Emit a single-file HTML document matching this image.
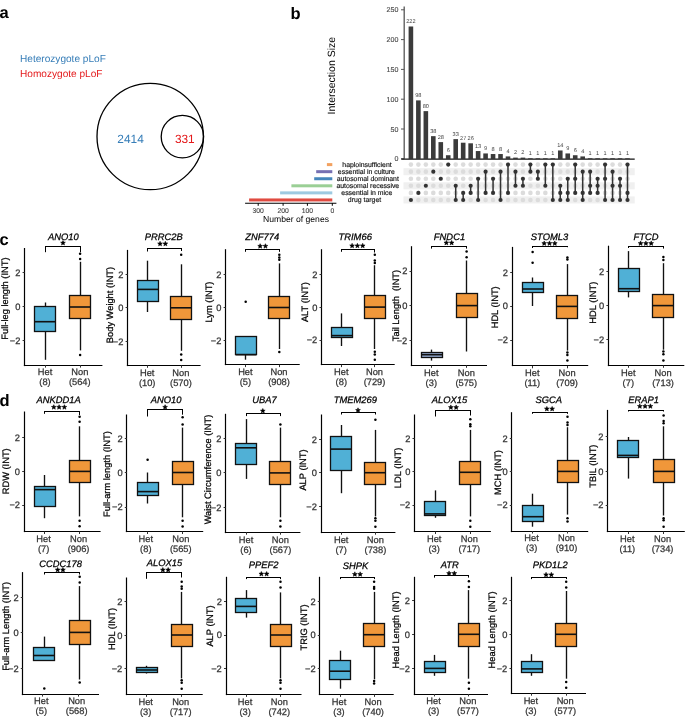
<!DOCTYPE html>
<html><head><meta charset="utf-8"><title>Figure</title>
<style>
html,body{margin:0;padding:0;background:#fff;}
body{width:685px;height:717px;overflow:hidden;}
svg{display:block;font-family:"Liberation Sans", sans-serif;will-change:transform;text-rendering:geometricPrecision;}
</style></head><body>
<svg width="685" height="717" viewBox="0 0 685 717">
<rect width="685" height="717" fill="#fff"/>
<text x="-0.5" y="18.3" font-size="16.5" fill="#000" text-anchor="start" font-weight="bold">a</text>
<text x="290.6" y="18.6" font-size="16.5" fill="#000" text-anchor="start" font-weight="bold">b</text>
<text x="-0.6" y="244.6" font-size="16.5" fill="#000" text-anchor="start" font-weight="bold">c</text>
<text x="-0.6" y="405.7" font-size="16.5" fill="#000" text-anchor="start" font-weight="bold">d</text>
<text x="20" y="62.3" font-size="10.1" fill="#377eb8" text-anchor="start">Heterozygote pLoF</text>
<text x="20" y="77.2" font-size="10.1" fill="#e41a1c" text-anchor="start">Homozygote pLoF</text>
<circle cx="150.2" cy="136.5" r="53.2" fill="none" stroke="#000" stroke-width="1.3"/>
<circle cx="182.4" cy="136.6" r="21.2" fill="none" stroke="#000" stroke-width="1.3"/>
<text x="130.6" y="143" font-size="11.9" fill="#377eb8" text-anchor="middle">2414</text>
<text x="184.8" y="143" font-size="11.9" fill="#e41a1c" text-anchor="middle">331</text>
<line x1="404.2" y1="6.5" x2="404.2" y2="158.8" stroke="#555" stroke-width="1.3"/>
<line x1="401" y1="158.8" x2="404.2" y2="158.8" stroke="#555" stroke-width="1"/>
<text x="398.4" y="161.3" font-size="7.1" fill="#484848" text-anchor="end" stroke="#484848" stroke-width="0.12">0</text>
<line x1="401" y1="129" x2="404.2" y2="129" stroke="#555" stroke-width="1"/>
<text x="398.4" y="131.5" font-size="7.1" fill="#484848" text-anchor="end" stroke="#484848" stroke-width="0.12">50</text>
<line x1="401" y1="99.2" x2="404.2" y2="99.2" stroke="#555" stroke-width="1"/>
<text x="398.4" y="101.7" font-size="7.1" fill="#484848" text-anchor="end" stroke="#484848" stroke-width="0.12">100</text>
<line x1="401" y1="69.4" x2="404.2" y2="69.4" stroke="#555" stroke-width="1"/>
<text x="398.4" y="71.9" font-size="7.1" fill="#484848" text-anchor="end" stroke="#484848" stroke-width="0.12">150</text>
<line x1="401" y1="39.6" x2="404.2" y2="39.6" stroke="#555" stroke-width="1"/>
<text x="398.4" y="42.1" font-size="7.1" fill="#484848" text-anchor="end" stroke="#484848" stroke-width="0.12">200</text>
<line x1="401" y1="9.8" x2="404.2" y2="9.8" stroke="#555" stroke-width="1"/>
<text x="398.4" y="12.3" font-size="7.1" fill="#484848" text-anchor="end" stroke="#484848" stroke-width="0.12">250</text>
<text x="334.8" y="75.7" font-size="10.5" fill="#000" text-anchor="middle" transform="rotate(-90 334.8 75.7)">Intersection Size</text>
<rect x="408.6" y="26.49" width="4.6" height="132.31" fill="#3b3b3b"/>
<text x="410.9" y="23.29" font-size="5.6" fill="#444" text-anchor="middle">222</text>
<rect x="416.07" y="100.39" width="4.6" height="58.41" fill="#3b3b3b"/>
<text x="418.37" y="97.19" font-size="5.6" fill="#444" text-anchor="middle">98</text>
<rect x="423.54" y="111.12" width="4.6" height="47.68" fill="#3b3b3b"/>
<text x="425.84" y="107.92" font-size="5.6" fill="#444" text-anchor="middle">80</text>
<rect x="431.01" y="136.15" width="4.6" height="22.65" fill="#3b3b3b"/>
<text x="433.31" y="132.95" font-size="5.6" fill="#444" text-anchor="middle">38</text>
<rect x="438.48" y="142.11" width="4.6" height="16.69" fill="#3b3b3b"/>
<text x="440.78" y="138.91" font-size="5.6" fill="#444" text-anchor="middle">28</text>
<rect x="445.94" y="155.22" width="4.6" height="3.58" fill="#3b3b3b"/>
<text x="448.24" y="152.02" font-size="5.6" fill="#444" text-anchor="middle">6</text>
<rect x="453.41" y="139.13" width="4.6" height="19.67" fill="#3b3b3b"/>
<text x="455.71" y="135.93" font-size="5.6" fill="#444" text-anchor="middle">33</text>
<rect x="460.88" y="142.71" width="4.6" height="16.09" fill="#3b3b3b"/>
<text x="463.18" y="139.51" font-size="5.6" fill="#444" text-anchor="middle">27</text>
<rect x="468.35" y="143.3" width="4.6" height="15.5" fill="#3b3b3b"/>
<text x="470.65" y="140.1" font-size="5.6" fill="#444" text-anchor="middle">26</text>
<rect x="475.82" y="151.05" width="4.6" height="7.75" fill="#3b3b3b"/>
<text x="478.12" y="147.85" font-size="5.6" fill="#444" text-anchor="middle">13</text>
<rect x="483.29" y="153.44" width="4.6" height="5.36" fill="#3b3b3b"/>
<text x="485.59" y="150.24" font-size="5.6" fill="#444" text-anchor="middle">9</text>
<rect x="490.76" y="154.03" width="4.6" height="4.77" fill="#3b3b3b"/>
<text x="493.06" y="150.83" font-size="5.6" fill="#444" text-anchor="middle">8</text>
<rect x="498.23" y="154.03" width="4.6" height="4.77" fill="#3b3b3b"/>
<text x="500.53" y="150.83" font-size="5.6" fill="#444" text-anchor="middle">8</text>
<rect x="505.7" y="156.42" width="4.6" height="2.38" fill="#3b3b3b"/>
<text x="508" y="153.22" font-size="5.6" fill="#444" text-anchor="middle">4</text>
<rect x="513.17" y="157.61" width="4.6" height="1.19" fill="#3b3b3b"/>
<text x="515.47" y="154.41" font-size="5.6" fill="#444" text-anchor="middle">2</text>
<rect x="520.63" y="157.61" width="4.6" height="1.19" fill="#3b3b3b"/>
<text x="522.93" y="154.41" font-size="5.6" fill="#444" text-anchor="middle">2</text>
<rect x="528.1" y="158.2" width="4.6" height="0.6" fill="#3b3b3b"/>
<text x="530.4" y="155" font-size="5.6" fill="#444" text-anchor="middle">1</text>
<rect x="535.57" y="158.2" width="4.6" height="0.6" fill="#3b3b3b"/>
<text x="537.87" y="155" font-size="5.6" fill="#444" text-anchor="middle">1</text>
<rect x="543.04" y="158.2" width="4.6" height="0.6" fill="#3b3b3b"/>
<text x="545.34" y="155" font-size="5.6" fill="#444" text-anchor="middle">1</text>
<rect x="550.51" y="158.2" width="4.6" height="0.6" fill="#3b3b3b"/>
<text x="552.81" y="155" font-size="5.6" fill="#444" text-anchor="middle">1</text>
<rect x="557.98" y="150.46" width="4.6" height="8.34" fill="#3b3b3b"/>
<text x="560.28" y="147.26" font-size="5.6" fill="#444" text-anchor="middle">14</text>
<rect x="565.45" y="153.44" width="4.6" height="5.36" fill="#3b3b3b"/>
<text x="567.75" y="150.24" font-size="5.6" fill="#444" text-anchor="middle">9</text>
<rect x="572.92" y="155.22" width="4.6" height="3.58" fill="#3b3b3b"/>
<text x="575.22" y="152.02" font-size="5.6" fill="#444" text-anchor="middle">6</text>
<rect x="580.39" y="156.42" width="4.6" height="2.38" fill="#3b3b3b"/>
<text x="582.69" y="153.22" font-size="5.6" fill="#444" text-anchor="middle">4</text>
<rect x="587.86" y="158.2" width="4.6" height="0.6" fill="#3b3b3b"/>
<text x="590.16" y="155" font-size="5.6" fill="#444" text-anchor="middle">1</text>
<rect x="595.32" y="158.2" width="4.6" height="0.6" fill="#3b3b3b"/>
<text x="597.62" y="155" font-size="5.6" fill="#444" text-anchor="middle">1</text>
<rect x="602.79" y="158.2" width="4.6" height="0.6" fill="#3b3b3b"/>
<text x="605.09" y="155" font-size="5.6" fill="#444" text-anchor="middle">1</text>
<rect x="610.26" y="158.2" width="4.6" height="0.6" fill="#3b3b3b"/>
<text x="612.56" y="155" font-size="5.6" fill="#444" text-anchor="middle">1</text>
<rect x="617.73" y="158.2" width="4.6" height="0.6" fill="#3b3b3b"/>
<text x="620.03" y="155" font-size="5.6" fill="#444" text-anchor="middle">1</text>
<rect x="625.2" y="158.2" width="4.6" height="0.6" fill="#3b3b3b"/>
<text x="627.5" y="155" font-size="5.6" fill="#444" text-anchor="middle">1</text>
<rect x="403.5" y="168.13" width="231.2" height="7.07" fill="#f0f0f0"/>
<rect x="403.5" y="182.28" width="231.2" height="7.07" fill="#f0f0f0"/>
<rect x="403.5" y="196.41" width="231.2" height="7.07" fill="#f0f0f0"/>
<line x1="401.3" y1="159.1" x2="634.7" y2="159.1" stroke="#111" stroke-width="1.4"/>
<circle cx="410.9" cy="164.6" r="2.3" fill="#dcdcdc"/>
<circle cx="410.9" cy="171.67" r="2.3" fill="#dcdcdc"/>
<circle cx="410.9" cy="178.74" r="2.3" fill="#dcdcdc"/>
<circle cx="410.9" cy="185.81" r="2.3" fill="#dcdcdc"/>
<circle cx="410.9" cy="192.88" r="2.3" fill="#dcdcdc"/>
<circle cx="410.9" cy="199.95" r="2.3" fill="#dcdcdc"/>
<circle cx="418.37" cy="164.6" r="2.3" fill="#dcdcdc"/>
<circle cx="418.37" cy="171.67" r="2.3" fill="#dcdcdc"/>
<circle cx="418.37" cy="178.74" r="2.3" fill="#dcdcdc"/>
<circle cx="418.37" cy="185.81" r="2.3" fill="#dcdcdc"/>
<circle cx="418.37" cy="192.88" r="2.3" fill="#dcdcdc"/>
<circle cx="418.37" cy="199.95" r="2.3" fill="#dcdcdc"/>
<circle cx="425.84" cy="164.6" r="2.3" fill="#dcdcdc"/>
<circle cx="425.84" cy="171.67" r="2.3" fill="#dcdcdc"/>
<circle cx="425.84" cy="178.74" r="2.3" fill="#dcdcdc"/>
<circle cx="425.84" cy="185.81" r="2.3" fill="#dcdcdc"/>
<circle cx="425.84" cy="192.88" r="2.3" fill="#dcdcdc"/>
<circle cx="425.84" cy="199.95" r="2.3" fill="#dcdcdc"/>
<circle cx="433.31" cy="164.6" r="2.3" fill="#dcdcdc"/>
<circle cx="433.31" cy="171.67" r="2.3" fill="#dcdcdc"/>
<circle cx="433.31" cy="178.74" r="2.3" fill="#dcdcdc"/>
<circle cx="433.31" cy="185.81" r="2.3" fill="#dcdcdc"/>
<circle cx="433.31" cy="192.88" r="2.3" fill="#dcdcdc"/>
<circle cx="433.31" cy="199.95" r="2.3" fill="#dcdcdc"/>
<circle cx="440.78" cy="164.6" r="2.3" fill="#dcdcdc"/>
<circle cx="440.78" cy="171.67" r="2.3" fill="#dcdcdc"/>
<circle cx="440.78" cy="178.74" r="2.3" fill="#dcdcdc"/>
<circle cx="440.78" cy="185.81" r="2.3" fill="#dcdcdc"/>
<circle cx="440.78" cy="192.88" r="2.3" fill="#dcdcdc"/>
<circle cx="440.78" cy="199.95" r="2.3" fill="#dcdcdc"/>
<circle cx="448.24" cy="164.6" r="2.3" fill="#dcdcdc"/>
<circle cx="448.24" cy="171.67" r="2.3" fill="#dcdcdc"/>
<circle cx="448.24" cy="178.74" r="2.3" fill="#dcdcdc"/>
<circle cx="448.24" cy="185.81" r="2.3" fill="#dcdcdc"/>
<circle cx="448.24" cy="192.88" r="2.3" fill="#dcdcdc"/>
<circle cx="448.24" cy="199.95" r="2.3" fill="#dcdcdc"/>
<circle cx="455.71" cy="164.6" r="2.3" fill="#dcdcdc"/>
<circle cx="455.71" cy="171.67" r="2.3" fill="#dcdcdc"/>
<circle cx="455.71" cy="178.74" r="2.3" fill="#dcdcdc"/>
<circle cx="455.71" cy="185.81" r="2.3" fill="#dcdcdc"/>
<circle cx="455.71" cy="192.88" r="2.3" fill="#dcdcdc"/>
<circle cx="455.71" cy="199.95" r="2.3" fill="#dcdcdc"/>
<circle cx="463.18" cy="164.6" r="2.3" fill="#dcdcdc"/>
<circle cx="463.18" cy="171.67" r="2.3" fill="#dcdcdc"/>
<circle cx="463.18" cy="178.74" r="2.3" fill="#dcdcdc"/>
<circle cx="463.18" cy="185.81" r="2.3" fill="#dcdcdc"/>
<circle cx="463.18" cy="192.88" r="2.3" fill="#dcdcdc"/>
<circle cx="463.18" cy="199.95" r="2.3" fill="#dcdcdc"/>
<circle cx="470.65" cy="164.6" r="2.3" fill="#dcdcdc"/>
<circle cx="470.65" cy="171.67" r="2.3" fill="#dcdcdc"/>
<circle cx="470.65" cy="178.74" r="2.3" fill="#dcdcdc"/>
<circle cx="470.65" cy="185.81" r="2.3" fill="#dcdcdc"/>
<circle cx="470.65" cy="192.88" r="2.3" fill="#dcdcdc"/>
<circle cx="470.65" cy="199.95" r="2.3" fill="#dcdcdc"/>
<circle cx="478.12" cy="164.6" r="2.3" fill="#dcdcdc"/>
<circle cx="478.12" cy="171.67" r="2.3" fill="#dcdcdc"/>
<circle cx="478.12" cy="178.74" r="2.3" fill="#dcdcdc"/>
<circle cx="478.12" cy="185.81" r="2.3" fill="#dcdcdc"/>
<circle cx="478.12" cy="192.88" r="2.3" fill="#dcdcdc"/>
<circle cx="478.12" cy="199.95" r="2.3" fill="#dcdcdc"/>
<circle cx="485.59" cy="164.6" r="2.3" fill="#dcdcdc"/>
<circle cx="485.59" cy="171.67" r="2.3" fill="#dcdcdc"/>
<circle cx="485.59" cy="178.74" r="2.3" fill="#dcdcdc"/>
<circle cx="485.59" cy="185.81" r="2.3" fill="#dcdcdc"/>
<circle cx="485.59" cy="192.88" r="2.3" fill="#dcdcdc"/>
<circle cx="485.59" cy="199.95" r="2.3" fill="#dcdcdc"/>
<circle cx="493.06" cy="164.6" r="2.3" fill="#dcdcdc"/>
<circle cx="493.06" cy="171.67" r="2.3" fill="#dcdcdc"/>
<circle cx="493.06" cy="178.74" r="2.3" fill="#dcdcdc"/>
<circle cx="493.06" cy="185.81" r="2.3" fill="#dcdcdc"/>
<circle cx="493.06" cy="192.88" r="2.3" fill="#dcdcdc"/>
<circle cx="493.06" cy="199.95" r="2.3" fill="#dcdcdc"/>
<circle cx="500.53" cy="164.6" r="2.3" fill="#dcdcdc"/>
<circle cx="500.53" cy="171.67" r="2.3" fill="#dcdcdc"/>
<circle cx="500.53" cy="178.74" r="2.3" fill="#dcdcdc"/>
<circle cx="500.53" cy="185.81" r="2.3" fill="#dcdcdc"/>
<circle cx="500.53" cy="192.88" r="2.3" fill="#dcdcdc"/>
<circle cx="500.53" cy="199.95" r="2.3" fill="#dcdcdc"/>
<circle cx="508" cy="164.6" r="2.3" fill="#dcdcdc"/>
<circle cx="508" cy="171.67" r="2.3" fill="#dcdcdc"/>
<circle cx="508" cy="178.74" r="2.3" fill="#dcdcdc"/>
<circle cx="508" cy="185.81" r="2.3" fill="#dcdcdc"/>
<circle cx="508" cy="192.88" r="2.3" fill="#dcdcdc"/>
<circle cx="508" cy="199.95" r="2.3" fill="#dcdcdc"/>
<circle cx="515.47" cy="164.6" r="2.3" fill="#dcdcdc"/>
<circle cx="515.47" cy="171.67" r="2.3" fill="#dcdcdc"/>
<circle cx="515.47" cy="178.74" r="2.3" fill="#dcdcdc"/>
<circle cx="515.47" cy="185.81" r="2.3" fill="#dcdcdc"/>
<circle cx="515.47" cy="192.88" r="2.3" fill="#dcdcdc"/>
<circle cx="515.47" cy="199.95" r="2.3" fill="#dcdcdc"/>
<circle cx="522.93" cy="164.6" r="2.3" fill="#dcdcdc"/>
<circle cx="522.93" cy="171.67" r="2.3" fill="#dcdcdc"/>
<circle cx="522.93" cy="178.74" r="2.3" fill="#dcdcdc"/>
<circle cx="522.93" cy="185.81" r="2.3" fill="#dcdcdc"/>
<circle cx="522.93" cy="192.88" r="2.3" fill="#dcdcdc"/>
<circle cx="522.93" cy="199.95" r="2.3" fill="#dcdcdc"/>
<circle cx="530.4" cy="164.6" r="2.3" fill="#dcdcdc"/>
<circle cx="530.4" cy="171.67" r="2.3" fill="#dcdcdc"/>
<circle cx="530.4" cy="178.74" r="2.3" fill="#dcdcdc"/>
<circle cx="530.4" cy="185.81" r="2.3" fill="#dcdcdc"/>
<circle cx="530.4" cy="192.88" r="2.3" fill="#dcdcdc"/>
<circle cx="530.4" cy="199.95" r="2.3" fill="#dcdcdc"/>
<circle cx="537.87" cy="164.6" r="2.3" fill="#dcdcdc"/>
<circle cx="537.87" cy="171.67" r="2.3" fill="#dcdcdc"/>
<circle cx="537.87" cy="178.74" r="2.3" fill="#dcdcdc"/>
<circle cx="537.87" cy="185.81" r="2.3" fill="#dcdcdc"/>
<circle cx="537.87" cy="192.88" r="2.3" fill="#dcdcdc"/>
<circle cx="537.87" cy="199.95" r="2.3" fill="#dcdcdc"/>
<circle cx="545.34" cy="164.6" r="2.3" fill="#dcdcdc"/>
<circle cx="545.34" cy="171.67" r="2.3" fill="#dcdcdc"/>
<circle cx="545.34" cy="178.74" r="2.3" fill="#dcdcdc"/>
<circle cx="545.34" cy="185.81" r="2.3" fill="#dcdcdc"/>
<circle cx="545.34" cy="192.88" r="2.3" fill="#dcdcdc"/>
<circle cx="545.34" cy="199.95" r="2.3" fill="#dcdcdc"/>
<circle cx="552.81" cy="164.6" r="2.3" fill="#dcdcdc"/>
<circle cx="552.81" cy="171.67" r="2.3" fill="#dcdcdc"/>
<circle cx="552.81" cy="178.74" r="2.3" fill="#dcdcdc"/>
<circle cx="552.81" cy="185.81" r="2.3" fill="#dcdcdc"/>
<circle cx="552.81" cy="192.88" r="2.3" fill="#dcdcdc"/>
<circle cx="552.81" cy="199.95" r="2.3" fill="#dcdcdc"/>
<circle cx="560.28" cy="164.6" r="2.3" fill="#dcdcdc"/>
<circle cx="560.28" cy="171.67" r="2.3" fill="#dcdcdc"/>
<circle cx="560.28" cy="178.74" r="2.3" fill="#dcdcdc"/>
<circle cx="560.28" cy="185.81" r="2.3" fill="#dcdcdc"/>
<circle cx="560.28" cy="192.88" r="2.3" fill="#dcdcdc"/>
<circle cx="560.28" cy="199.95" r="2.3" fill="#dcdcdc"/>
<circle cx="567.75" cy="164.6" r="2.3" fill="#dcdcdc"/>
<circle cx="567.75" cy="171.67" r="2.3" fill="#dcdcdc"/>
<circle cx="567.75" cy="178.74" r="2.3" fill="#dcdcdc"/>
<circle cx="567.75" cy="185.81" r="2.3" fill="#dcdcdc"/>
<circle cx="567.75" cy="192.88" r="2.3" fill="#dcdcdc"/>
<circle cx="567.75" cy="199.95" r="2.3" fill="#dcdcdc"/>
<circle cx="575.22" cy="164.6" r="2.3" fill="#dcdcdc"/>
<circle cx="575.22" cy="171.67" r="2.3" fill="#dcdcdc"/>
<circle cx="575.22" cy="178.74" r="2.3" fill="#dcdcdc"/>
<circle cx="575.22" cy="185.81" r="2.3" fill="#dcdcdc"/>
<circle cx="575.22" cy="192.88" r="2.3" fill="#dcdcdc"/>
<circle cx="575.22" cy="199.95" r="2.3" fill="#dcdcdc"/>
<circle cx="582.69" cy="164.6" r="2.3" fill="#dcdcdc"/>
<circle cx="582.69" cy="171.67" r="2.3" fill="#dcdcdc"/>
<circle cx="582.69" cy="178.74" r="2.3" fill="#dcdcdc"/>
<circle cx="582.69" cy="185.81" r="2.3" fill="#dcdcdc"/>
<circle cx="582.69" cy="192.88" r="2.3" fill="#dcdcdc"/>
<circle cx="582.69" cy="199.95" r="2.3" fill="#dcdcdc"/>
<circle cx="590.16" cy="164.6" r="2.3" fill="#dcdcdc"/>
<circle cx="590.16" cy="171.67" r="2.3" fill="#dcdcdc"/>
<circle cx="590.16" cy="178.74" r="2.3" fill="#dcdcdc"/>
<circle cx="590.16" cy="185.81" r="2.3" fill="#dcdcdc"/>
<circle cx="590.16" cy="192.88" r="2.3" fill="#dcdcdc"/>
<circle cx="590.16" cy="199.95" r="2.3" fill="#dcdcdc"/>
<circle cx="597.62" cy="164.6" r="2.3" fill="#dcdcdc"/>
<circle cx="597.62" cy="171.67" r="2.3" fill="#dcdcdc"/>
<circle cx="597.62" cy="178.74" r="2.3" fill="#dcdcdc"/>
<circle cx="597.62" cy="185.81" r="2.3" fill="#dcdcdc"/>
<circle cx="597.62" cy="192.88" r="2.3" fill="#dcdcdc"/>
<circle cx="597.62" cy="199.95" r="2.3" fill="#dcdcdc"/>
<circle cx="605.09" cy="164.6" r="2.3" fill="#dcdcdc"/>
<circle cx="605.09" cy="171.67" r="2.3" fill="#dcdcdc"/>
<circle cx="605.09" cy="178.74" r="2.3" fill="#dcdcdc"/>
<circle cx="605.09" cy="185.81" r="2.3" fill="#dcdcdc"/>
<circle cx="605.09" cy="192.88" r="2.3" fill="#dcdcdc"/>
<circle cx="605.09" cy="199.95" r="2.3" fill="#dcdcdc"/>
<circle cx="612.56" cy="164.6" r="2.3" fill="#dcdcdc"/>
<circle cx="612.56" cy="171.67" r="2.3" fill="#dcdcdc"/>
<circle cx="612.56" cy="178.74" r="2.3" fill="#dcdcdc"/>
<circle cx="612.56" cy="185.81" r="2.3" fill="#dcdcdc"/>
<circle cx="612.56" cy="192.88" r="2.3" fill="#dcdcdc"/>
<circle cx="612.56" cy="199.95" r="2.3" fill="#dcdcdc"/>
<circle cx="620.03" cy="164.6" r="2.3" fill="#dcdcdc"/>
<circle cx="620.03" cy="171.67" r="2.3" fill="#dcdcdc"/>
<circle cx="620.03" cy="178.74" r="2.3" fill="#dcdcdc"/>
<circle cx="620.03" cy="185.81" r="2.3" fill="#dcdcdc"/>
<circle cx="620.03" cy="192.88" r="2.3" fill="#dcdcdc"/>
<circle cx="620.03" cy="199.95" r="2.3" fill="#dcdcdc"/>
<circle cx="627.5" cy="164.6" r="2.3" fill="#dcdcdc"/>
<circle cx="627.5" cy="171.67" r="2.3" fill="#dcdcdc"/>
<circle cx="627.5" cy="178.74" r="2.3" fill="#dcdcdc"/>
<circle cx="627.5" cy="185.81" r="2.3" fill="#dcdcdc"/>
<circle cx="627.5" cy="192.88" r="2.3" fill="#dcdcdc"/>
<circle cx="627.5" cy="199.95" r="2.3" fill="#dcdcdc"/>
<circle cx="410.9" cy="199.95" r="2.05" fill="#333"/>
<circle cx="418.37" cy="192.88" r="2.05" fill="#333"/>
<circle cx="425.84" cy="185.81" r="2.05" fill="#333"/>
<circle cx="433.31" cy="171.67" r="2.05" fill="#333"/>
<circle cx="440.78" cy="178.74" r="2.05" fill="#333"/>
<circle cx="448.24" cy="164.6" r="2.05" fill="#333"/>
<line x1="455.71" y1="185.81" x2="455.71" y2="199.95" stroke="#333" stroke-width="1.5"/>
<circle cx="455.71" cy="185.81" r="2.05" fill="#333"/>
<circle cx="455.71" cy="199.95" r="2.05" fill="#333"/>
<line x1="463.18" y1="192.88" x2="463.18" y2="199.95" stroke="#333" stroke-width="1.5"/>
<circle cx="463.18" cy="192.88" r="2.05" fill="#333"/>
<circle cx="463.18" cy="199.95" r="2.05" fill="#333"/>
<line x1="470.65" y1="185.81" x2="470.65" y2="192.88" stroke="#333" stroke-width="1.5"/>
<circle cx="470.65" cy="185.81" r="2.05" fill="#333"/>
<circle cx="470.65" cy="192.88" r="2.05" fill="#333"/>
<line x1="478.12" y1="178.74" x2="478.12" y2="199.95" stroke="#333" stroke-width="1.5"/>
<circle cx="478.12" cy="178.74" r="2.05" fill="#333"/>
<circle cx="478.12" cy="199.95" r="2.05" fill="#333"/>
<line x1="485.59" y1="171.67" x2="485.59" y2="192.88" stroke="#333" stroke-width="1.5"/>
<circle cx="485.59" cy="171.67" r="2.05" fill="#333"/>
<circle cx="485.59" cy="192.88" r="2.05" fill="#333"/>
<line x1="493.06" y1="178.74" x2="493.06" y2="192.88" stroke="#333" stroke-width="1.5"/>
<circle cx="493.06" cy="178.74" r="2.05" fill="#333"/>
<circle cx="493.06" cy="192.88" r="2.05" fill="#333"/>
<line x1="500.53" y1="171.67" x2="500.53" y2="199.95" stroke="#333" stroke-width="1.5"/>
<circle cx="500.53" cy="171.67" r="2.05" fill="#333"/>
<circle cx="500.53" cy="199.95" r="2.05" fill="#333"/>
<line x1="508" y1="164.6" x2="508" y2="192.88" stroke="#333" stroke-width="1.5"/>
<circle cx="508" cy="164.6" r="2.05" fill="#333"/>
<circle cx="508" cy="192.88" r="2.05" fill="#333"/>
<line x1="515.47" y1="171.67" x2="515.47" y2="185.81" stroke="#333" stroke-width="1.5"/>
<circle cx="515.47" cy="171.67" r="2.05" fill="#333"/>
<circle cx="515.47" cy="185.81" r="2.05" fill="#333"/>
<line x1="522.93" y1="178.74" x2="522.93" y2="185.81" stroke="#333" stroke-width="1.5"/>
<circle cx="522.93" cy="178.74" r="2.05" fill="#333"/>
<circle cx="522.93" cy="185.81" r="2.05" fill="#333"/>
<line x1="530.4" y1="164.6" x2="530.4" y2="171.67" stroke="#333" stroke-width="1.5"/>
<circle cx="530.4" cy="164.6" r="2.05" fill="#333"/>
<circle cx="530.4" cy="171.67" r="2.05" fill="#333"/>
<line x1="537.87" y1="171.67" x2="537.87" y2="178.74" stroke="#333" stroke-width="1.5"/>
<circle cx="537.87" cy="171.67" r="2.05" fill="#333"/>
<circle cx="537.87" cy="178.74" r="2.05" fill="#333"/>
<line x1="545.34" y1="164.6" x2="545.34" y2="185.81" stroke="#333" stroke-width="1.5"/>
<circle cx="545.34" cy="164.6" r="2.05" fill="#333"/>
<circle cx="545.34" cy="185.81" r="2.05" fill="#333"/>
<line x1="552.81" y1="164.6" x2="552.81" y2="199.95" stroke="#333" stroke-width="1.5"/>
<circle cx="552.81" cy="164.6" r="2.05" fill="#333"/>
<circle cx="552.81" cy="199.95" r="2.05" fill="#333"/>
<line x1="560.28" y1="185.81" x2="560.28" y2="199.95" stroke="#333" stroke-width="1.5"/>
<circle cx="560.28" cy="185.81" r="2.05" fill="#333"/>
<circle cx="560.28" cy="192.88" r="2.05" fill="#333"/>
<circle cx="560.28" cy="199.95" r="2.05" fill="#333"/>
<line x1="567.75" y1="178.74" x2="567.75" y2="199.95" stroke="#333" stroke-width="1.5"/>
<circle cx="567.75" cy="178.74" r="2.05" fill="#333"/>
<circle cx="567.75" cy="192.88" r="2.05" fill="#333"/>
<circle cx="567.75" cy="199.95" r="2.05" fill="#333"/>
<line x1="575.22" y1="164.6" x2="575.22" y2="192.88" stroke="#333" stroke-width="1.5"/>
<circle cx="575.22" cy="164.6" r="2.05" fill="#333"/>
<circle cx="575.22" cy="178.74" r="2.05" fill="#333"/>
<circle cx="575.22" cy="192.88" r="2.05" fill="#333"/>
<line x1="582.69" y1="171.67" x2="582.69" y2="199.95" stroke="#333" stroke-width="1.5"/>
<circle cx="582.69" cy="171.67" r="2.05" fill="#333"/>
<circle cx="582.69" cy="192.88" r="2.05" fill="#333"/>
<circle cx="582.69" cy="199.95" r="2.05" fill="#333"/>
<line x1="590.16" y1="171.67" x2="590.16" y2="192.88" stroke="#333" stroke-width="1.5"/>
<circle cx="590.16" cy="171.67" r="2.05" fill="#333"/>
<circle cx="590.16" cy="185.81" r="2.05" fill="#333"/>
<circle cx="590.16" cy="192.88" r="2.05" fill="#333"/>
<line x1="597.62" y1="178.74" x2="597.62" y2="192.88" stroke="#333" stroke-width="1.5"/>
<circle cx="597.62" cy="178.74" r="2.05" fill="#333"/>
<circle cx="597.62" cy="185.81" r="2.05" fill="#333"/>
<circle cx="597.62" cy="192.88" r="2.05" fill="#333"/>
<line x1="605.09" y1="164.6" x2="605.09" y2="199.95" stroke="#333" stroke-width="1.5"/>
<circle cx="605.09" cy="164.6" r="2.05" fill="#333"/>
<circle cx="605.09" cy="178.74" r="2.05" fill="#333"/>
<circle cx="605.09" cy="199.95" r="2.05" fill="#333"/>
<line x1="612.56" y1="171.67" x2="612.56" y2="199.95" stroke="#333" stroke-width="1.5"/>
<circle cx="612.56" cy="171.67" r="2.05" fill="#333"/>
<circle cx="612.56" cy="185.81" r="2.05" fill="#333"/>
<circle cx="612.56" cy="199.95" r="2.05" fill="#333"/>
<line x1="620.03" y1="178.74" x2="620.03" y2="199.95" stroke="#333" stroke-width="1.5"/>
<circle cx="620.03" cy="178.74" r="2.05" fill="#333"/>
<circle cx="620.03" cy="185.81" r="2.05" fill="#333"/>
<circle cx="620.03" cy="199.95" r="2.05" fill="#333"/>
<line x1="627.5" y1="164.6" x2="627.5" y2="199.95" stroke="#333" stroke-width="1.5"/>
<circle cx="627.5" cy="164.6" r="2.05" fill="#333"/>
<circle cx="627.5" cy="192.88" r="2.05" fill="#333"/>
<circle cx="627.5" cy="199.95" r="2.05" fill="#333"/>
<rect x="326.9" y="163.1" width="5.4" height="3" fill="#f2a160"/>
<text x="367" y="167" font-size="6.9" fill="#111" text-anchor="middle" stroke="#111" stroke-width="0.15">haploinsufficient</text>
<rect x="316.2" y="170.17" width="16.1" height="3" fill="#7670b2"/>
<text x="366.4" y="174.07" font-size="6.9" fill="#111" text-anchor="middle" stroke="#111" stroke-width="0.15">essential in culture</text>
<rect x="314.2" y="177.24" width="18.1" height="3" fill="#4586bb"/>
<text x="367.8" y="181.14" font-size="6.9" fill="#111" text-anchor="middle" stroke="#111" stroke-width="0.15">autosomal dominant</text>
<rect x="291.4" y="184.31" width="40.9" height="3" fill="#9acf95"/>
<text x="367.8" y="188.21" font-size="6.9" fill="#111" text-anchor="middle" stroke="#111" stroke-width="0.15">autosomal recessive</text>
<rect x="280.1" y="191.38" width="52.2" height="3" fill="#9ecae1"/>
<text x="366.8" y="195.28" font-size="6.9" fill="#111" text-anchor="middle" stroke="#111" stroke-width="0.15">essential in mice</text>
<rect x="249.1" y="198.45" width="83.2" height="3" fill="#e04a40"/>
<text x="364.5" y="202.35" font-size="6.9" fill="#111" text-anchor="middle" stroke="#111" stroke-width="0.15">drug target</text>
<line x1="245.1" y1="203.2" x2="336.4" y2="203.2" stroke="#000" stroke-width="1.1"/>
<line x1="258.2" y1="203.2" x2="258.2" y2="205.8" stroke="#000" stroke-width="1"/>
<text x="258.2" y="212.8" font-size="6.8" fill="#484848" text-anchor="middle" stroke="#484848" stroke-width="0.12">300</text>
<line x1="283.1" y1="203.2" x2="283.1" y2="205.8" stroke="#000" stroke-width="1"/>
<text x="283.1" y="212.8" font-size="6.8" fill="#484848" text-anchor="middle" stroke="#484848" stroke-width="0.12">200</text>
<line x1="307.4" y1="203.2" x2="307.4" y2="205.8" stroke="#000" stroke-width="1"/>
<text x="307.4" y="212.8" font-size="6.8" fill="#484848" text-anchor="middle" stroke="#484848" stroke-width="0.12">100</text>
<line x1="332.3" y1="203.2" x2="332.3" y2="205.8" stroke="#000" stroke-width="1"/>
<text x="332.3" y="212.8" font-size="6.8" fill="#484848" text-anchor="middle" stroke="#484848" stroke-width="0.12">0</text>
<text x="296" y="222" font-size="8.6" fill="#000" text-anchor="middle">Number of genes</text>
<line x1="24.5" y1="248" x2="24.5" y2="366.1" stroke="#000" stroke-width="1.2"/>
<line x1="23.9" y1="365.5" x2="102.4" y2="365.5" stroke="#000" stroke-width="1.2"/>
<line x1="22.6" y1="272.5" x2="24.6" y2="272.5" stroke="#333" stroke-width="1"/>
<text x="20.4" y="276.2" font-size="9.3" fill="#333333" text-anchor="end" stroke="#333333" stroke-width="0.25">2</text>
<line x1="22.6" y1="306.5" x2="24.6" y2="306.5" stroke="#333" stroke-width="1"/>
<text x="20.4" y="310.2" font-size="9.3" fill="#333333" text-anchor="end" stroke="#333333" stroke-width="0.25">0</text>
<line x1="22.6" y1="340.5" x2="24.6" y2="340.5" stroke="#333" stroke-width="1"/>
<text x="20.4" y="344.1" font-size="9.3" fill="#333333" text-anchor="end" stroke="#333333" stroke-width="0.25">−2</text>
<line x1="45.5" y1="365.2" x2="45.5" y2="367.6" stroke="#333" stroke-width="1"/>
<line x1="80.5" y1="365.2" x2="80.5" y2="367.6" stroke="#333" stroke-width="1"/>
<text x="45" y="375.4" font-size="9.3" fill="#333333" text-anchor="middle" stroke="#333333" stroke-width="0.25">Het</text>
<text x="45" y="385.4" font-size="9.3" fill="#333333" text-anchor="middle" stroke="#333333" stroke-width="0.25">(8)</text>
<text x="79.8" y="375.4" font-size="9.3" fill="#333333" text-anchor="middle" stroke="#333333" stroke-width="0.25">Non</text>
<text x="79.8" y="385.4" font-size="9.3" fill="#333333" text-anchor="middle" stroke="#333333" stroke-width="0.25">(564)</text>
<text x="7.6" y="298.6" font-size="9.3" fill="#000" text-anchor="middle" stroke="#000" stroke-width="0.25" transform="rotate(-90 7.6 298.6)">Full-leg length (INT)</text>
<text x="63.3" y="240.2" font-size="9.4" fill="#000" text-anchor="middle" stroke="#000" stroke-width="0.25" font-style="italic">ANO10</text>
<line x1="45.5" y1="302.5" x2="45.5" y2="306.3" stroke="#111" stroke-width="1.35"/>
<line x1="45.5" y1="331.4" x2="45.5" y2="359.8" stroke="#111" stroke-width="1.35"/>
<rect x="34.5" y="306.5" width="21" height="25" fill="#50b0d6" stroke="#111" stroke-width="1.3"/>
<line x1="34.5" y1="321.7" x2="55.5" y2="321.7" stroke="#111" stroke-width="1.6"/>
<line x1="80.5" y1="261.8" x2="80.5" y2="295.3" stroke="#111" stroke-width="1.35"/>
<line x1="80.5" y1="318.2" x2="80.5" y2="350.4" stroke="#111" stroke-width="1.35"/>
<rect x="69.5" y="295.5" width="21" height="23" fill="#f0973a" stroke="#111" stroke-width="1.3"/>
<line x1="69.5" y1="307" x2="90.5" y2="307" stroke="#111" stroke-width="1.6"/>
<circle cx="80.1" cy="259" r="1.25" fill="#000"/>
<circle cx="80.1" cy="253.8" r="1.25" fill="#000"/>
<circle cx="80.1" cy="355" r="1.25" fill="#000"/>
<line x1="45.3" y1="246.5" x2="80.1" y2="246.5" stroke="#000" stroke-width="1"/>
<line x1="45.5" y1="246" x2="45.5" y2="252.2" stroke="#000" stroke-width="1"/>
<line x1="80.5" y1="246" x2="80.5" y2="252.2" stroke="#000" stroke-width="1"/>
<polygon points="63,240.5 63.65,242.11 65.38,242.23 64.05,243.34 64.47,245.02 63,244.1 61.53,245.02 61.95,243.34 60.62,242.23 62.35,242.11" fill="#000" stroke="#000" stroke-width="0.55" stroke-linejoin="round"/>
<line x1="127.5" y1="249.9" x2="127.5" y2="366.1" stroke="#000" stroke-width="1.2"/>
<line x1="126.9" y1="365.5" x2="200.6" y2="365.5" stroke="#000" stroke-width="1.2"/>
<line x1="125.6" y1="274.5" x2="127.6" y2="274.5" stroke="#333" stroke-width="1"/>
<text x="123.4" y="277.8" font-size="9.3" fill="#333333" text-anchor="end" stroke="#333333" stroke-width="0.25">2</text>
<line x1="125.6" y1="307.5" x2="127.6" y2="307.5" stroke="#333" stroke-width="1"/>
<text x="123.4" y="311.2" font-size="9.3" fill="#333333" text-anchor="end" stroke="#333333" stroke-width="0.25">0</text>
<line x1="125.6" y1="341.5" x2="127.6" y2="341.5" stroke="#333" stroke-width="1"/>
<text x="123.4" y="345" font-size="9.3" fill="#333333" text-anchor="end" stroke="#333333" stroke-width="0.25">−2</text>
<line x1="147.5" y1="365.4" x2="147.5" y2="367.8" stroke="#333" stroke-width="1"/>
<line x1="181.5" y1="365.4" x2="181.5" y2="367.8" stroke="#333" stroke-width="1"/>
<text x="147.2" y="375.6" font-size="9.3" fill="#333333" text-anchor="middle" stroke="#333333" stroke-width="0.25">Het</text>
<text x="147.2" y="385.6" font-size="9.3" fill="#333333" text-anchor="middle" stroke="#333333" stroke-width="0.25">(10)</text>
<text x="180.9" y="375.6" font-size="9.3" fill="#333333" text-anchor="middle" stroke="#333333" stroke-width="0.25">Non</text>
<text x="180.9" y="385.6" font-size="9.3" fill="#333333" text-anchor="middle" stroke="#333333" stroke-width="0.25">(570)</text>
<text x="112.6" y="305" font-size="9.3" fill="#000" text-anchor="middle" stroke="#000" stroke-width="0.25" transform="rotate(-90 112.6 305)">Body Weight (INT)</text>
<text x="163.8" y="240.2" font-size="9.4" fill="#000" text-anchor="middle" stroke="#000" stroke-width="0.25" font-style="italic">PRRC2B</text>
<line x1="147.5" y1="260.7" x2="147.5" y2="280.2" stroke="#111" stroke-width="1.35"/>
<line x1="147.5" y1="301.4" x2="147.5" y2="312" stroke="#111" stroke-width="1.35"/>
<rect x="137.5" y="280.5" width="21" height="21" fill="#50b0d6" stroke="#111" stroke-width="1.3"/>
<line x1="137.5" y1="289.4" x2="158.5" y2="289.4" stroke="#111" stroke-width="1.6"/>
<line x1="181.5" y1="264.3" x2="181.5" y2="296.6" stroke="#111" stroke-width="1.35"/>
<line x1="181.5" y1="319" x2="181.5" y2="350.8" stroke="#111" stroke-width="1.35"/>
<rect x="170.5" y="296.5" width="21" height="23" fill="#f0973a" stroke="#111" stroke-width="1.3"/>
<line x1="170.5" y1="307.8" x2="191.5" y2="307.8" stroke="#111" stroke-width="1.6"/>
<circle cx="181.2" cy="254.8" r="1.25" fill="#000"/>
<circle cx="181.2" cy="354.4" r="1.25" fill="#000"/>
<circle cx="181.2" cy="360.1" r="1.25" fill="#000"/>
<line x1="147.5" y1="248.5" x2="181.2" y2="248.5" stroke="#000" stroke-width="1"/>
<line x1="147.5" y1="248" x2="147.5" y2="251.5" stroke="#000" stroke-width="1"/>
<line x1="181.5" y1="248" x2="181.5" y2="251" stroke="#000" stroke-width="1"/>
<polygon points="160.05,241.3 160.7,242.91 162.43,243.03 161.1,244.14 161.52,245.82 160.05,244.9 158.58,245.82 159,244.14 157.67,243.03 159.4,242.91" fill="#000" stroke="#000" stroke-width="0.55" stroke-linejoin="round"/>
<polygon points="165.35,241.3 166,242.91 167.73,243.03 166.4,244.14 166.82,245.82 165.35,244.9 163.88,245.82 164.3,244.14 162.97,243.03 164.7,242.91" fill="#000" stroke="#000" stroke-width="0.55" stroke-linejoin="round"/>
<line x1="225.5" y1="249.2" x2="225.5" y2="365.1" stroke="#000" stroke-width="1.2"/>
<line x1="224.9" y1="364.5" x2="299.7" y2="364.5" stroke="#000" stroke-width="1.2"/>
<line x1="223.6" y1="274.5" x2="225.6" y2="274.5" stroke="#333" stroke-width="1"/>
<text x="221.4" y="277.8" font-size="9.3" fill="#333333" text-anchor="end" stroke="#333333" stroke-width="0.25">2</text>
<line x1="223.6" y1="307.5" x2="225.6" y2="307.5" stroke="#333" stroke-width="1"/>
<text x="221.4" y="310.5" font-size="9.3" fill="#333333" text-anchor="end" stroke="#333333" stroke-width="0.25">0</text>
<line x1="223.6" y1="340.5" x2="225.6" y2="340.5" stroke="#333" stroke-width="1"/>
<text x="221.4" y="344.1" font-size="9.3" fill="#333333" text-anchor="end" stroke="#333333" stroke-width="0.25">−2</text>
<line x1="245.5" y1="364.7" x2="245.5" y2="367.1" stroke="#333" stroke-width="1"/>
<line x1="279.5" y1="364.7" x2="279.5" y2="367.1" stroke="#333" stroke-width="1"/>
<text x="245.4" y="374.9" font-size="9.3" fill="#333333" text-anchor="middle" stroke="#333333" stroke-width="0.25">Het</text>
<text x="245.4" y="384.9" font-size="9.3" fill="#333333" text-anchor="middle" stroke="#333333" stroke-width="0.25">(5)</text>
<text x="279" y="374.9" font-size="9.3" fill="#333333" text-anchor="middle" stroke="#333333" stroke-width="0.25">Non</text>
<text x="279" y="384.9" font-size="9.3" fill="#333333" text-anchor="middle" stroke="#333333" stroke-width="0.25">(908)</text>
<text x="212" y="302" font-size="9.3" fill="#000" text-anchor="middle" stroke="#000" stroke-width="0.25" transform="rotate(-90 212 302)">Lym (INT)</text>
<text x="262.3" y="240.2" font-size="9.4" fill="#000" text-anchor="middle" stroke="#000" stroke-width="0.25" font-style="italic">ZNF774</text>
<line x1="245.5" y1="354.7" x2="245.5" y2="359.7" stroke="#111" stroke-width="1.35"/>
<rect x="235.5" y="336.5" width="21" height="18" fill="#50b0d6" stroke="#111" stroke-width="1.3"/>
<line x1="235.5" y1="354.7" x2="256.5" y2="354.7" stroke="#111" stroke-width="1.6"/>
<circle cx="245.7" cy="301.8" r="1.25" fill="#000"/>
<line x1="279.5" y1="263.4" x2="279.5" y2="296" stroke="#111" stroke-width="1.35"/>
<line x1="279.5" y1="318.3" x2="279.5" y2="349" stroke="#111" stroke-width="1.35"/>
<rect x="268.5" y="296.5" width="21" height="22" fill="#f0973a" stroke="#111" stroke-width="1.3"/>
<line x1="268.5" y1="307.5" x2="289.5" y2="307.5" stroke="#111" stroke-width="1.6"/>
<circle cx="279.3" cy="259.8" r="1.25" fill="#000"/>
<circle cx="279.3" cy="257.6" r="1.25" fill="#000"/>
<circle cx="279.3" cy="254.8" r="1.25" fill="#000"/>
<circle cx="279.3" cy="352.1" r="1.25" fill="#000"/>
<line x1="245.7" y1="249.5" x2="279.3" y2="249.5" stroke="#000" stroke-width="1"/>
<line x1="245.5" y1="249" x2="245.5" y2="251.8" stroke="#000" stroke-width="1"/>
<line x1="279.5" y1="249" x2="279.5" y2="251.8" stroke="#000" stroke-width="1"/>
<polygon points="260.15,243.7 260.8,245.31 262.53,245.43 261.2,246.54 261.62,248.22 260.15,247.3 258.68,248.22 259.1,246.54 257.77,245.43 259.5,245.31" fill="#000" stroke="#000" stroke-width="0.55" stroke-linejoin="round"/>
<polygon points="265.45,243.7 266.1,245.31 267.83,245.43 266.5,246.54 266.92,248.22 265.45,247.3 263.98,248.22 264.4,246.54 263.07,245.43 264.8,245.31" fill="#000" stroke="#000" stroke-width="0.55" stroke-linejoin="round"/>
<line x1="321.5" y1="249.2" x2="321.5" y2="365.1" stroke="#000" stroke-width="1.2"/>
<line x1="320.9" y1="364.5" x2="394.7" y2="364.5" stroke="#000" stroke-width="1.2"/>
<line x1="319.5" y1="274.5" x2="321.5" y2="274.5" stroke="#333" stroke-width="1"/>
<text x="317.3" y="277.8" font-size="9.3" fill="#333333" text-anchor="end" stroke="#333333" stroke-width="0.25">2</text>
<line x1="319.5" y1="307.5" x2="321.5" y2="307.5" stroke="#333" stroke-width="1"/>
<text x="317.3" y="310.5" font-size="9.3" fill="#333333" text-anchor="end" stroke="#333333" stroke-width="0.25">0</text>
<line x1="319.5" y1="340.5" x2="321.5" y2="340.5" stroke="#333" stroke-width="1"/>
<text x="317.3" y="343.4" font-size="9.3" fill="#333333" text-anchor="end" stroke="#333333" stroke-width="0.25">−2</text>
<line x1="341.5" y1="364.7" x2="341.5" y2="367.1" stroke="#333" stroke-width="1"/>
<line x1="374.5" y1="364.7" x2="374.5" y2="367.1" stroke="#333" stroke-width="1"/>
<text x="341.3" y="374.9" font-size="9.3" fill="#333333" text-anchor="middle" stroke="#333333" stroke-width="0.25">Het</text>
<text x="341.3" y="384.9" font-size="9.3" fill="#333333" text-anchor="middle" stroke="#333333" stroke-width="0.25">(8)</text>
<text x="374.5" y="374.9" font-size="9.3" fill="#333333" text-anchor="middle" stroke="#333333" stroke-width="0.25">Non</text>
<text x="374.5" y="384.9" font-size="9.3" fill="#333333" text-anchor="middle" stroke="#333333" stroke-width="0.25">(729)</text>
<text x="308" y="302.1" font-size="9.3" fill="#000" text-anchor="middle" stroke="#000" stroke-width="0.25" transform="rotate(-90 308 302.1)">ALT (INT)</text>
<text x="355.2" y="240.2" font-size="9.4" fill="#000" text-anchor="middle" stroke="#000" stroke-width="0.25" font-style="italic">TRIM66</text>
<line x1="341.5" y1="313.4" x2="341.5" y2="327.3" stroke="#111" stroke-width="1.35"/>
<line x1="341.5" y1="337.1" x2="341.5" y2="346" stroke="#111" stroke-width="1.35"/>
<rect x="331.5" y="327.5" width="21" height="10" fill="#50b0d6" stroke="#111" stroke-width="1.3"/>
<line x1="331.5" y1="335.6" x2="352.5" y2="335.6" stroke="#111" stroke-width="1.6"/>
<line x1="374.5" y1="265.2" x2="374.5" y2="295.5" stroke="#111" stroke-width="1.35"/>
<line x1="374.5" y1="318.3" x2="374.5" y2="349" stroke="#111" stroke-width="1.35"/>
<rect x="364.5" y="295.5" width="21" height="23" fill="#f0973a" stroke="#111" stroke-width="1.3"/>
<line x1="364.5" y1="307.1" x2="385.5" y2="307.1" stroke="#111" stroke-width="1.6"/>
<circle cx="374.8" cy="263" r="1.25" fill="#000"/>
<circle cx="374.8" cy="260.4" r="1.25" fill="#000"/>
<circle cx="374.8" cy="254.8" r="1.25" fill="#000"/>
<circle cx="374.8" cy="351.7" r="1.25" fill="#000"/>
<circle cx="374.8" cy="354.4" r="1.25" fill="#000"/>
<circle cx="374.8" cy="359.7" r="1.25" fill="#000"/>
<line x1="341.6" y1="249.5" x2="374.8" y2="249.5" stroke="#000" stroke-width="1"/>
<line x1="341.5" y1="249" x2="341.5" y2="251.8" stroke="#000" stroke-width="1"/>
<line x1="374.5" y1="249" x2="374.5" y2="252.5" stroke="#000" stroke-width="1"/>
<polygon points="352.1,243.3 352.75,244.91 354.48,245.03 353.15,246.14 353.57,247.82 352.1,246.9 350.63,247.82 351.05,246.14 349.72,245.03 351.45,244.91" fill="#000" stroke="#000" stroke-width="0.55" stroke-linejoin="round"/>
<polygon points="357.4,243.3 358.05,244.91 359.78,245.03 358.45,246.14 358.87,247.82 357.4,246.9 355.93,247.82 356.35,246.14 355.02,245.03 356.75,244.91" fill="#000" stroke="#000" stroke-width="0.55" stroke-linejoin="round"/>
<polygon points="362.7,243.3 363.35,244.91 365.08,245.03 363.75,246.14 364.17,247.82 362.7,246.9 361.23,247.82 361.65,246.14 360.32,245.03 362.05,244.91" fill="#000" stroke="#000" stroke-width="0.55" stroke-linejoin="round"/>
<line x1="411.5" y1="246.2" x2="411.5" y2="366.1" stroke="#000" stroke-width="1.2"/>
<line x1="410.9" y1="365.5" x2="487" y2="365.5" stroke="#000" stroke-width="1.2"/>
<line x1="409.5" y1="271.5" x2="411.5" y2="271.5" stroke="#333" stroke-width="1"/>
<text x="407.3" y="274.3" font-size="9.3" fill="#333333" text-anchor="end" stroke="#333333" stroke-width="0.25">2</text>
<line x1="409.5" y1="305.5" x2="411.5" y2="305.5" stroke="#333" stroke-width="1"/>
<text x="407.3" y="308.9" font-size="9.3" fill="#333333" text-anchor="end" stroke="#333333" stroke-width="0.25">0</text>
<line x1="409.5" y1="340.5" x2="411.5" y2="340.5" stroke="#333" stroke-width="1"/>
<text x="407.3" y="343.8" font-size="9.3" fill="#333333" text-anchor="end" stroke="#333333" stroke-width="0.25">−2</text>
<line x1="431.5" y1="365.4" x2="431.5" y2="367.8" stroke="#333" stroke-width="1"/>
<line x1="466.5" y1="365.4" x2="466.5" y2="367.8" stroke="#333" stroke-width="1"/>
<text x="431.3" y="375.6" font-size="9.3" fill="#333333" text-anchor="middle" stroke="#333333" stroke-width="0.25">Het</text>
<text x="431.3" y="385.6" font-size="9.3" fill="#333333" text-anchor="middle" stroke="#333333" stroke-width="0.25">(3)</text>
<text x="466.3" y="375.6" font-size="9.3" fill="#333333" text-anchor="middle" stroke="#333333" stroke-width="0.25">Non</text>
<text x="466.3" y="385.6" font-size="9.3" fill="#333333" text-anchor="middle" stroke="#333333" stroke-width="0.25">(575)</text>
<text x="398.6" y="305.5" font-size="9.3" fill="#000" text-anchor="middle" stroke="#000" stroke-width="0.25" transform="rotate(-90 398.6 305.5)" xml:space="preserve">Tail Length  (INT)</text>
<text x="449.5" y="240.2" font-size="9.4" fill="#000" text-anchor="middle" stroke="#000" stroke-width="0.25" font-style="italic">FNDC1</text>
<line x1="431.5" y1="349.6" x2="431.5" y2="352" stroke="#111" stroke-width="1.35"/>
<line x1="431.5" y1="357.8" x2="431.5" y2="360.6" stroke="#111" stroke-width="1.35"/>
<rect x="421.5" y="352.5" width="21" height="5" fill="#96acd2" stroke="#111" stroke-width="1.3"/>
<line x1="421.5" y1="354.7" x2="442.5" y2="354.7" stroke="#111" stroke-width="1.6"/>
<line x1="466.5" y1="260.5" x2="466.5" y2="293.5" stroke="#111" stroke-width="1.35"/>
<line x1="466.5" y1="317.6" x2="466.5" y2="351.5" stroke="#111" stroke-width="1.35"/>
<rect x="456.5" y="293.5" width="21" height="24" fill="#f0973a" stroke="#111" stroke-width="1.3"/>
<line x1="456.5" y1="305.6" x2="477.5" y2="305.6" stroke="#111" stroke-width="1.6"/>
<circle cx="466.6" cy="257.3" r="1.25" fill="#000"/>
<circle cx="466.6" cy="251.6" r="1.25" fill="#000"/>
<line x1="431.6" y1="246.5" x2="466.6" y2="246.5" stroke="#000" stroke-width="1"/>
<line x1="431.5" y1="246" x2="431.5" y2="248.6" stroke="#000" stroke-width="1"/>
<line x1="466.5" y1="246" x2="466.5" y2="248.6" stroke="#000" stroke-width="1"/>
<polygon points="446.35,240.4 447,242.01 448.73,242.13 447.4,243.24 447.82,244.92 446.35,244 444.88,244.92 445.3,243.24 443.97,242.13 445.7,242.01" fill="#000" stroke="#000" stroke-width="0.55" stroke-linejoin="round"/>
<polygon points="451.65,240.4 452.3,242.01 454.03,242.13 452.7,243.24 453.12,244.92 451.65,244 450.18,244.92 450.6,243.24 449.27,242.13 451,242.01" fill="#000" stroke="#000" stroke-width="0.55" stroke-linejoin="round"/>
<line x1="512.5" y1="246.9" x2="512.5" y2="366.1" stroke="#000" stroke-width="1.2"/>
<line x1="511.9" y1="365.5" x2="588.2" y2="365.5" stroke="#000" stroke-width="1.2"/>
<line x1="510.2" y1="272.5" x2="512.2" y2="272.5" stroke="#333" stroke-width="1"/>
<text x="508" y="275.9" font-size="9.3" fill="#333333" text-anchor="end" stroke="#333333" stroke-width="0.25">2</text>
<line x1="510.2" y1="306.5" x2="512.2" y2="306.5" stroke="#333" stroke-width="1"/>
<text x="508" y="309.3" font-size="9.3" fill="#333333" text-anchor="end" stroke="#333333" stroke-width="0.25">0</text>
<line x1="510.2" y1="340.5" x2="512.2" y2="340.5" stroke="#333" stroke-width="1"/>
<text x="508" y="343.4" font-size="9.3" fill="#333333" text-anchor="end" stroke="#333333" stroke-width="0.25">−2</text>
<line x1="532.5" y1="365.9" x2="532.5" y2="368.3" stroke="#333" stroke-width="1"/>
<line x1="567.5" y1="365.9" x2="567.5" y2="368.3" stroke="#333" stroke-width="1"/>
<text x="532.3" y="376.1" font-size="9.3" fill="#333333" text-anchor="middle" stroke="#333333" stroke-width="0.25">Het</text>
<text x="532.3" y="386.1" font-size="9.3" fill="#333333" text-anchor="middle" stroke="#333333" stroke-width="0.25">(11)</text>
<text x="567.1" y="376.1" font-size="9.3" fill="#333333" text-anchor="middle" stroke="#333333" stroke-width="0.25">Non</text>
<text x="567.1" y="386.1" font-size="9.3" fill="#333333" text-anchor="middle" stroke="#333333" stroke-width="0.25">(709)</text>
<text x="498.2" y="307.3" font-size="9.3" fill="#000" text-anchor="middle" stroke="#000" stroke-width="0.25" transform="rotate(-90 498.2 307.3)">HDL (INT)</text>
<text x="549.5" y="240.2" font-size="9.4" fill="#000" text-anchor="middle" stroke="#000" stroke-width="0.25" font-style="italic">STOML3</text>
<line x1="532.5" y1="277.5" x2="532.5" y2="282.3" stroke="#111" stroke-width="1.35"/>
<line x1="532.5" y1="292.3" x2="532.5" y2="306" stroke="#111" stroke-width="1.35"/>
<rect x="522.5" y="282.5" width="21" height="10" fill="#50b0d6" stroke="#111" stroke-width="1.3"/>
<line x1="522.5" y1="289" x2="543.5" y2="289" stroke="#111" stroke-width="1.6"/>
<circle cx="532.6" cy="252.1" r="1.25" fill="#000"/>
<circle cx="532.6" cy="262.7" r="1.25" fill="#000"/>
<line x1="567.5" y1="264.1" x2="567.5" y2="295.7" stroke="#111" stroke-width="1.35"/>
<line x1="567.5" y1="318" x2="567.5" y2="350.6" stroke="#111" stroke-width="1.35"/>
<rect x="556.5" y="295.5" width="21" height="23" fill="#f0973a" stroke="#111" stroke-width="1.3"/>
<line x1="556.5" y1="306.4" x2="577.5" y2="306.4" stroke="#111" stroke-width="1.6"/>
<circle cx="567.4" cy="259.6" r="1.25" fill="#000"/>
<circle cx="567.4" cy="257.5" r="1.25" fill="#000"/>
<circle cx="567.4" cy="352.4" r="1.25" fill="#000"/>
<circle cx="567.4" cy="355.1" r="1.25" fill="#000"/>
<circle cx="567.4" cy="360.4" r="1.25" fill="#000"/>
<line x1="532.6" y1="246.5" x2="567.4" y2="246.5" stroke="#000" stroke-width="1"/>
<line x1="532.5" y1="246" x2="532.5" y2="248" stroke="#000" stroke-width="1"/>
<line x1="567.5" y1="246" x2="567.5" y2="247.2" stroke="#000" stroke-width="1"/>
<polygon points="544.2,240.9 544.85,242.51 546.58,242.63 545.25,243.74 545.67,245.42 544.2,244.5 542.73,245.42 543.15,243.74 541.82,242.63 543.55,242.51" fill="#000" stroke="#000" stroke-width="0.55" stroke-linejoin="round"/>
<polygon points="549.5,240.9 550.15,242.51 551.88,242.63 550.55,243.74 550.97,245.42 549.5,244.5 548.03,245.42 548.45,243.74 547.12,242.63 548.85,242.51" fill="#000" stroke="#000" stroke-width="0.55" stroke-linejoin="round"/>
<polygon points="554.8,240.9 555.45,242.51 557.18,242.63 555.85,243.74 556.27,245.42 554.8,244.5 553.33,245.42 553.75,243.74 552.42,242.63 554.15,242.51" fill="#000" stroke="#000" stroke-width="0.55" stroke-linejoin="round"/>
<line x1="608.5" y1="245.7" x2="608.5" y2="366.1" stroke="#000" stroke-width="1.2"/>
<line x1="607.9" y1="365.5" x2="684.3" y2="365.5" stroke="#000" stroke-width="1.2"/>
<line x1="606.4" y1="271.5" x2="608.4" y2="271.5" stroke="#333" stroke-width="1"/>
<text x="604.2" y="274.8" font-size="9.3" fill="#333333" text-anchor="end" stroke="#333333" stroke-width="0.25">2</text>
<line x1="606.4" y1="305.5" x2="608.4" y2="305.5" stroke="#333" stroke-width="1"/>
<text x="604.2" y="308.9" font-size="9.3" fill="#333333" text-anchor="end" stroke="#333333" stroke-width="0.25">0</text>
<line x1="606.4" y1="339.5" x2="608.4" y2="339.5" stroke="#333" stroke-width="1"/>
<text x="604.2" y="342.7" font-size="9.3" fill="#333333" text-anchor="end" stroke="#333333" stroke-width="0.25">−2</text>
<line x1="628.5" y1="365.4" x2="628.5" y2="367.8" stroke="#333" stroke-width="1"/>
<line x1="663.5" y1="365.4" x2="663.5" y2="367.8" stroke="#333" stroke-width="1"/>
<text x="628.3" y="375.6" font-size="9.3" fill="#333333" text-anchor="middle" stroke="#333333" stroke-width="0.25">Het</text>
<text x="628.3" y="385.6" font-size="9.3" fill="#333333" text-anchor="middle" stroke="#333333" stroke-width="0.25">(7)</text>
<text x="663.1" y="375.6" font-size="9.3" fill="#333333" text-anchor="middle" stroke="#333333" stroke-width="0.25">Non</text>
<text x="663.1" y="385.6" font-size="9.3" fill="#333333" text-anchor="middle" stroke="#333333" stroke-width="0.25">(713)</text>
<text x="596.4" y="302.7" font-size="9.3" fill="#000" text-anchor="middle" stroke="#000" stroke-width="0.25" transform="rotate(-90 596.4 302.7)">HDL (INT)</text>
<text x="646" y="240.2" font-size="9.4" fill="#000" text-anchor="middle" stroke="#000" stroke-width="0.25" font-style="italic">FTCD</text>
<line x1="628.5" y1="251.1" x2="628.5" y2="268.5" stroke="#111" stroke-width="1.35"/>
<line x1="628.5" y1="291.4" x2="628.5" y2="297.4" stroke="#111" stroke-width="1.35"/>
<rect x="618.5" y="268.5" width="21" height="23" fill="#50b0d6" stroke="#111" stroke-width="1.3"/>
<line x1="618.5" y1="288.7" x2="639.5" y2="288.7" stroke="#111" stroke-width="1.6"/>
<line x1="663.5" y1="263.2" x2="663.5" y2="294.4" stroke="#111" stroke-width="1.35"/>
<line x1="663.5" y1="317.2" x2="663.5" y2="349.7" stroke="#111" stroke-width="1.35"/>
<rect x="652.5" y="294.5" width="21" height="23" fill="#f0973a" stroke="#111" stroke-width="1.3"/>
<line x1="652.5" y1="305.6" x2="673.5" y2="305.6" stroke="#111" stroke-width="1.6"/>
<circle cx="663.4" cy="260" r="1.25" fill="#000"/>
<circle cx="663.4" cy="257" r="1.25" fill="#000"/>
<circle cx="663.4" cy="351.5" r="1.25" fill="#000"/>
<circle cx="663.4" cy="354.2" r="1.25" fill="#000"/>
<circle cx="663.4" cy="360.4" r="1.25" fill="#000"/>
<line x1="628.6" y1="246.5" x2="663.4" y2="246.5" stroke="#000" stroke-width="1"/>
<line x1="628.5" y1="246" x2="628.5" y2="248" stroke="#000" stroke-width="1"/>
<line x1="663.5" y1="246" x2="663.5" y2="248.6" stroke="#000" stroke-width="1"/>
<polygon points="640.6,240.9 641.25,242.51 642.98,242.63 641.65,243.74 642.07,245.42 640.6,244.5 639.13,245.42 639.55,243.74 638.22,242.63 639.95,242.51" fill="#000" stroke="#000" stroke-width="0.55" stroke-linejoin="round"/>
<polygon points="645.9,240.9 646.55,242.51 648.28,242.63 646.95,243.74 647.37,245.42 645.9,244.5 644.43,245.42 644.85,243.74 643.52,242.63 645.25,242.51" fill="#000" stroke="#000" stroke-width="0.55" stroke-linejoin="round"/>
<polygon points="651.2,240.9 651.85,242.51 653.58,242.63 652.25,243.74 652.67,245.42 651.2,244.5 649.73,245.42 650.15,243.74 648.82,242.63 650.55,242.51" fill="#000" stroke="#000" stroke-width="0.55" stroke-linejoin="round"/>
<line x1="24.5" y1="411.5" x2="24.5" y2="532.1" stroke="#000" stroke-width="1.2"/>
<line x1="23.9" y1="531.5" x2="100.6" y2="531.5" stroke="#000" stroke-width="1.2"/>
<line x1="22.2" y1="437.5" x2="24.2" y2="437.5" stroke="#333" stroke-width="1"/>
<text x="20" y="440.8" font-size="9.3" fill="#333333" text-anchor="end" stroke="#333333" stroke-width="0.25">2</text>
<line x1="22.2" y1="471.5" x2="24.2" y2="471.5" stroke="#333" stroke-width="1"/>
<text x="20" y="474.6" font-size="9.3" fill="#333333" text-anchor="end" stroke="#333333" stroke-width="0.25">0</text>
<line x1="22.2" y1="505.5" x2="24.2" y2="505.5" stroke="#333" stroke-width="1"/>
<text x="20" y="508.4" font-size="9.3" fill="#333333" text-anchor="end" stroke="#333333" stroke-width="0.25">−2</text>
<line x1="44.5" y1="531.6" x2="44.5" y2="534" stroke="#333" stroke-width="1"/>
<line x1="79.5" y1="531.6" x2="79.5" y2="534" stroke="#333" stroke-width="1"/>
<text x="43.6" y="541.8" font-size="9.3" fill="#333333" text-anchor="middle" stroke="#333333" stroke-width="0.25">Het</text>
<text x="43.6" y="551.8" font-size="9.3" fill="#333333" text-anchor="middle" stroke="#333333" stroke-width="0.25">(7)</text>
<text x="78.6" y="541.8" font-size="9.3" fill="#333333" text-anchor="middle" stroke="#333333" stroke-width="0.25">Non</text>
<text x="78.6" y="551.8" font-size="9.3" fill="#333333" text-anchor="middle" stroke="#333333" stroke-width="0.25">(906)</text>
<text x="9.4" y="471.3" font-size="9.3" fill="#000" text-anchor="middle" stroke="#000" stroke-width="0.25" transform="rotate(-90 9.4 471.3)">RDW (INT)</text>
<text x="58.7" y="403.4" font-size="9.4" fill="#000" text-anchor="middle" stroke="#000" stroke-width="0.25" font-style="italic">ANKDD1A</text>
<line x1="44.5" y1="475" x2="44.5" y2="486.6" stroke="#111" stroke-width="1.35"/>
<line x1="44.5" y1="506.6" x2="44.5" y2="518.2" stroke="#111" stroke-width="1.35"/>
<rect x="34.5" y="486.5" width="21" height="20" fill="#50b0d6" stroke="#111" stroke-width="1.3"/>
<line x1="34.5" y1="489.6" x2="55.5" y2="489.6" stroke="#111" stroke-width="1.6"/>
<line x1="79.5" y1="426.3" x2="79.5" y2="460.2" stroke="#111" stroke-width="1.35"/>
<line x1="79.5" y1="482.5" x2="79.5" y2="516.4" stroke="#111" stroke-width="1.35"/>
<rect x="69.5" y="460.5" width="21" height="22" fill="#f0973a" stroke="#111" stroke-width="1.3"/>
<line x1="69.5" y1="471.4" x2="90.5" y2="471.4" stroke="#111" stroke-width="1.6"/>
<circle cx="79.6" cy="421.8" r="1.25" fill="#000"/>
<circle cx="79.6" cy="416.8" r="1.25" fill="#000"/>
<circle cx="79.6" cy="520.8" r="1.25" fill="#000"/>
<circle cx="79.6" cy="526.2" r="1.25" fill="#000"/>
<line x1="44.6" y1="411.5" x2="79.6" y2="411.5" stroke="#000" stroke-width="1"/>
<line x1="44.5" y1="411" x2="44.5" y2="413.8" stroke="#000" stroke-width="1"/>
<line x1="79.5" y1="411" x2="79.5" y2="415" stroke="#000" stroke-width="1"/>
<polygon points="53.8,404.7 54.45,406.31 56.18,406.43 54.85,407.54 55.27,409.22 53.8,408.3 52.33,409.22 52.75,407.54 51.42,406.43 53.15,406.31" fill="#000" stroke="#000" stroke-width="0.55" stroke-linejoin="round"/>
<polygon points="59.1,404.7 59.75,406.31 61.48,406.43 60.15,407.54 60.57,409.22 59.1,408.3 57.63,409.22 58.05,407.54 56.72,406.43 58.45,406.31" fill="#000" stroke="#000" stroke-width="0.55" stroke-linejoin="round"/>
<polygon points="64.4,404.7 65.05,406.31 66.78,406.43 65.45,407.54 65.87,409.22 64.4,408.3 62.93,409.22 63.35,407.54 62.02,406.43 63.75,406.31" fill="#000" stroke="#000" stroke-width="0.55" stroke-linejoin="round"/>
<line x1="126.5" y1="414.5" x2="126.5" y2="532.1" stroke="#000" stroke-width="1.2"/>
<line x1="125.9" y1="531.5" x2="203.2" y2="531.5" stroke="#000" stroke-width="1.2"/>
<line x1="124.8" y1="438.5" x2="126.8" y2="438.5" stroke="#333" stroke-width="1"/>
<text x="122.6" y="441.9" font-size="9.3" fill="#333333" text-anchor="end" stroke="#333333" stroke-width="0.25">2</text>
<line x1="124.8" y1="472.5" x2="126.8" y2="472.5" stroke="#333" stroke-width="1"/>
<text x="122.6" y="475.8" font-size="9.3" fill="#333333" text-anchor="end" stroke="#333333" stroke-width="0.25">0</text>
<line x1="124.8" y1="507.5" x2="126.8" y2="507.5" stroke="#333" stroke-width="1"/>
<text x="122.6" y="510.3" font-size="9.3" fill="#333333" text-anchor="end" stroke="#333333" stroke-width="0.25">−2</text>
<line x1="147.5" y1="531.6" x2="147.5" y2="534" stroke="#333" stroke-width="1"/>
<line x1="182.5" y1="531.6" x2="182.5" y2="534" stroke="#333" stroke-width="1"/>
<text x="145.8" y="541.8" font-size="9.3" fill="#333333" text-anchor="middle" stroke="#333333" stroke-width="0.25">Het</text>
<text x="145.8" y="551.8" font-size="9.3" fill="#333333" text-anchor="middle" stroke="#333333" stroke-width="0.25">(8)</text>
<text x="180.8" y="541.8" font-size="9.3" fill="#333333" text-anchor="middle" stroke="#333333" stroke-width="0.25">Non</text>
<text x="180.8" y="551.8" font-size="9.3" fill="#333333" text-anchor="middle" stroke="#333333" stroke-width="0.25">(565)</text>
<text x="110" y="474" font-size="9.3" fill="#000" text-anchor="middle" stroke="#000" stroke-width="0.25" transform="rotate(-90 110 474)">Full-arm length (INT)</text>
<text x="166.1" y="403" font-size="9.4" fill="#000" text-anchor="middle" stroke="#000" stroke-width="0.25" font-style="italic">ANO10</text>
<line x1="147.5" y1="472.5" x2="147.5" y2="482.8" stroke="#111" stroke-width="1.35"/>
<line x1="147.5" y1="495.5" x2="147.5" y2="503.5" stroke="#111" stroke-width="1.35"/>
<rect x="137.5" y="482.5" width="21" height="13" fill="#50b0d6" stroke="#111" stroke-width="1.3"/>
<line x1="137.5" y1="491.6" x2="158.5" y2="491.6" stroke="#111" stroke-width="1.6"/>
<circle cx="147.6" cy="459.8" r="1.25" fill="#000"/>
<line x1="182.5" y1="427.6" x2="182.5" y2="461.4" stroke="#111" stroke-width="1.35"/>
<line x1="182.5" y1="484.4" x2="182.5" y2="517.3" stroke="#111" stroke-width="1.35"/>
<rect x="172.5" y="461.5" width="21" height="23" fill="#f0973a" stroke="#111" stroke-width="1.3"/>
<line x1="172.5" y1="472.5" x2="193.5" y2="472.5" stroke="#111" stroke-width="1.6"/>
<circle cx="182.6" cy="424.6" r="1.25" fill="#000"/>
<circle cx="182.6" cy="417.2" r="1.25" fill="#000"/>
<circle cx="182.6" cy="520.8" r="1.25" fill="#000"/>
<circle cx="182.6" cy="526.5" r="1.25" fill="#000"/>
<line x1="147.6" y1="409.5" x2="182.6" y2="409.5" stroke="#000" stroke-width="1"/>
<line x1="147.5" y1="409" x2="147.5" y2="416.5" stroke="#000" stroke-width="1"/>
<line x1="182.5" y1="409" x2="182.5" y2="414.7" stroke="#000" stroke-width="1"/>
<polygon points="165.1,404.7 165.75,406.31 167.48,406.43 166.15,407.54 166.57,409.22 165.1,408.3 163.63,409.22 164.05,407.54 162.72,406.43 164.45,406.31" fill="#000" stroke="#000" stroke-width="0.55" stroke-linejoin="round"/>
<line x1="225.5" y1="413.8" x2="225.5" y2="533.1" stroke="#000" stroke-width="1.2"/>
<line x1="224.9" y1="532.5" x2="300.4" y2="532.5" stroke="#000" stroke-width="1.2"/>
<line x1="223.6" y1="438.5" x2="225.6" y2="438.5" stroke="#333" stroke-width="1"/>
<text x="221.4" y="441.9" font-size="9.3" fill="#333333" text-anchor="end" stroke="#333333" stroke-width="0.25">2</text>
<line x1="223.6" y1="472.5" x2="225.6" y2="472.5" stroke="#333" stroke-width="1"/>
<text x="221.4" y="476.2" font-size="9.3" fill="#333333" text-anchor="end" stroke="#333333" stroke-width="0.25">0</text>
<line x1="223.6" y1="507.5" x2="225.6" y2="507.5" stroke="#333" stroke-width="1"/>
<text x="221.4" y="510.7" font-size="9.3" fill="#333333" text-anchor="end" stroke="#333333" stroke-width="0.25">−2</text>
<line x1="246.5" y1="532.3" x2="246.5" y2="534.7" stroke="#333" stroke-width="1"/>
<line x1="280.5" y1="532.3" x2="280.5" y2="534.7" stroke="#333" stroke-width="1"/>
<text x="246" y="542.5" font-size="9.3" fill="#333333" text-anchor="middle" stroke="#333333" stroke-width="0.25">Het</text>
<text x="246" y="552.5" font-size="9.3" fill="#333333" text-anchor="middle" stroke="#333333" stroke-width="0.25">(6)</text>
<text x="280.4" y="542.5" font-size="9.3" fill="#333333" text-anchor="middle" stroke="#333333" stroke-width="0.25">Non</text>
<text x="280.4" y="552.5" font-size="9.3" fill="#333333" text-anchor="middle" stroke="#333333" stroke-width="0.25">(567)</text>
<text x="211.2" y="469.5" font-size="9.3" fill="#000" text-anchor="middle" stroke="#000" stroke-width="0.25" transform="rotate(-90 211.2 469.5)">Waist Circumference (INT)</text>
<text x="264.6" y="403" font-size="9.4" fill="#000" text-anchor="middle" stroke="#000" stroke-width="0.25" font-style="italic">UBA7</text>
<line x1="246.5" y1="419.1" x2="246.5" y2="443.7" stroke="#111" stroke-width="1.35"/>
<line x1="246.5" y1="464.4" x2="246.5" y2="478.9" stroke="#111" stroke-width="1.35"/>
<rect x="235.5" y="443.5" width="21" height="21" fill="#50b0d6" stroke="#111" stroke-width="1.3"/>
<line x1="235.5" y1="447.8" x2="256.5" y2="447.8" stroke="#111" stroke-width="1.6"/>
<line x1="280.5" y1="427.6" x2="280.5" y2="461.4" stroke="#111" stroke-width="1.35"/>
<line x1="280.5" y1="484.7" x2="280.5" y2="517.3" stroke="#111" stroke-width="1.35"/>
<rect x="269.5" y="461.5" width="21" height="23" fill="#f0973a" stroke="#111" stroke-width="1.3"/>
<line x1="269.5" y1="472.9" x2="290.5" y2="472.9" stroke="#111" stroke-width="1.6"/>
<circle cx="280.4" cy="424.6" r="1.25" fill="#000"/>
<circle cx="280.4" cy="520.8" r="1.25" fill="#000"/>
<circle cx="280.4" cy="526.5" r="1.25" fill="#000"/>
<line x1="246" y1="413.5" x2="280.4" y2="413.5" stroke="#000" stroke-width="1"/>
<line x1="246.5" y1="413" x2="246.5" y2="416.1" stroke="#000" stroke-width="1"/>
<line x1="280.5" y1="413" x2="280.5" y2="416.1" stroke="#000" stroke-width="1"/>
<polygon points="262.8,408.5 263.45,410.11 265.18,410.23 263.85,411.34 264.27,413.02 262.8,412.1 261.33,413.02 261.75,411.34 260.42,410.23 262.15,410.11" fill="#000" stroke="#000" stroke-width="0.55" stroke-linejoin="round"/>
<line x1="321.5" y1="414.5" x2="321.5" y2="533.1" stroke="#000" stroke-width="1.2"/>
<line x1="320.9" y1="532.5" x2="395.4" y2="532.5" stroke="#000" stroke-width="1.2"/>
<line x1="319.1" y1="439.5" x2="321.1" y2="439.5" stroke="#333" stroke-width="1"/>
<text x="316.9" y="442.8" font-size="9.3" fill="#333333" text-anchor="end" stroke="#333333" stroke-width="0.25">2</text>
<line x1="319.1" y1="472.5" x2="321.1" y2="472.5" stroke="#333" stroke-width="1"/>
<text x="316.9" y="476.2" font-size="9.3" fill="#333333" text-anchor="end" stroke="#333333" stroke-width="0.25">0</text>
<line x1="319.1" y1="506.5" x2="321.1" y2="506.5" stroke="#333" stroke-width="1"/>
<text x="316.9" y="509.8" font-size="9.3" fill="#333333" text-anchor="end" stroke="#333333" stroke-width="0.25">−2</text>
<line x1="341.5" y1="532.3" x2="341.5" y2="534.7" stroke="#333" stroke-width="1"/>
<line x1="375.5" y1="532.3" x2="375.5" y2="534.7" stroke="#333" stroke-width="1"/>
<text x="341.2" y="542.5" font-size="9.3" fill="#333333" text-anchor="middle" stroke="#333333" stroke-width="0.25">Het</text>
<text x="341.2" y="552.5" font-size="9.3" fill="#333333" text-anchor="middle" stroke="#333333" stroke-width="0.25">(7)</text>
<text x="375.4" y="542.5" font-size="9.3" fill="#333333" text-anchor="middle" stroke="#333333" stroke-width="0.25">Non</text>
<text x="375.4" y="552.5" font-size="9.3" fill="#333333" text-anchor="middle" stroke="#333333" stroke-width="0.25">(738)</text>
<text x="305.6" y="470" font-size="9.3" fill="#000" text-anchor="middle" stroke="#000" stroke-width="0.25" transform="rotate(-90 305.6 470)">ALP (INT)</text>
<text x="355.3" y="403" font-size="9.4" fill="#000" text-anchor="middle" stroke="#000" stroke-width="0.25" font-style="italic">TMEM269</text>
<line x1="341.5" y1="425" x2="341.5" y2="436.1" stroke="#111" stroke-width="1.35"/>
<line x1="341.5" y1="470.4" x2="341.5" y2="493.2" stroke="#111" stroke-width="1.35"/>
<rect x="330.5" y="436.5" width="21" height="34" fill="#50b0d6" stroke="#111" stroke-width="1.3"/>
<line x1="330.5" y1="449.1" x2="351.5" y2="449.1" stroke="#111" stroke-width="1.6"/>
<line x1="375.5" y1="429.9" x2="375.5" y2="462" stroke="#111" stroke-width="1.35"/>
<line x1="375.5" y1="484.3" x2="375.5" y2="516.4" stroke="#111" stroke-width="1.35"/>
<rect x="364.5" y="462.5" width="21" height="22" fill="#f0973a" stroke="#111" stroke-width="1.3"/>
<line x1="364.5" y1="472.7" x2="385.5" y2="472.7" stroke="#111" stroke-width="1.6"/>
<circle cx="375.4" cy="419.7" r="1.25" fill="#000"/>
<circle cx="375.4" cy="518.2" r="1.25" fill="#000"/>
<circle cx="375.4" cy="520.8" r="1.25" fill="#000"/>
<circle cx="375.4" cy="526.7" r="1.25" fill="#000"/>
<line x1="341.2" y1="412.5" x2="375.4" y2="412.5" stroke="#000" stroke-width="1"/>
<line x1="341.5" y1="412" x2="341.5" y2="414.5" stroke="#000" stroke-width="1"/>
<line x1="375.5" y1="412" x2="375.5" y2="414.5" stroke="#000" stroke-width="1"/>
<polygon points="358,407.8 358.65,409.41 360.38,409.53 359.05,410.64 359.47,412.32 358,411.4 356.53,412.32 356.95,410.64 355.62,409.53 357.35,409.41" fill="#000" stroke="#000" stroke-width="0.55" stroke-linejoin="round"/>
<line x1="414.5" y1="414.5" x2="414.5" y2="532.1" stroke="#000" stroke-width="1.2"/>
<line x1="413.9" y1="531.5" x2="490.9" y2="531.5" stroke="#000" stroke-width="1.2"/>
<line x1="412.5" y1="438.5" x2="414.5" y2="438.5" stroke="#333" stroke-width="1"/>
<text x="410.3" y="441.7" font-size="9.3" fill="#333333" text-anchor="end" stroke="#333333" stroke-width="0.25">2</text>
<line x1="412.5" y1="471.5" x2="414.5" y2="471.5" stroke="#333" stroke-width="1"/>
<text x="410.3" y="475.1" font-size="9.3" fill="#333333" text-anchor="end" stroke="#333333" stroke-width="0.25">0</text>
<line x1="412.5" y1="505.5" x2="414.5" y2="505.5" stroke="#333" stroke-width="1"/>
<text x="410.3" y="508.4" font-size="9.3" fill="#333333" text-anchor="end" stroke="#333333" stroke-width="0.25">−2</text>
<line x1="435.5" y1="531.6" x2="435.5" y2="534" stroke="#333" stroke-width="1"/>
<line x1="470.5" y1="531.6" x2="470.5" y2="534" stroke="#333" stroke-width="1"/>
<text x="434.2" y="541.8" font-size="9.3" fill="#333333" text-anchor="middle" stroke="#333333" stroke-width="0.25">Het</text>
<text x="434.2" y="551.8" font-size="9.3" fill="#333333" text-anchor="middle" stroke="#333333" stroke-width="0.25">(3)</text>
<text x="469.3" y="541.8" font-size="9.3" fill="#333333" text-anchor="middle" stroke="#333333" stroke-width="0.25">Non</text>
<text x="469.3" y="551.8" font-size="9.3" fill="#333333" text-anchor="middle" stroke="#333333" stroke-width="0.25">(717)</text>
<text x="401.3" y="467.9" font-size="9.3" fill="#000" text-anchor="middle" stroke="#000" stroke-width="0.25" transform="rotate(-90 401.3 467.9)">LDL (INT)</text>
<text x="449.5" y="403" font-size="9.4" fill="#000" text-anchor="middle" stroke="#000" stroke-width="0.25" font-style="italic">ALOX15</text>
<line x1="435.5" y1="490.4" x2="435.5" y2="501.7" stroke="#111" stroke-width="1.35"/>
<line x1="435.5" y1="515.5" x2="435.5" y2="517.8" stroke="#111" stroke-width="1.35"/>
<rect x="424.5" y="501.5" width="21" height="14" fill="#50b0d6" stroke="#111" stroke-width="1.3"/>
<line x1="424.5" y1="513.9" x2="445.5" y2="513.9" stroke="#111" stroke-width="1.6"/>
<line x1="470.5" y1="429.9" x2="470.5" y2="461.4" stroke="#111" stroke-width="1.35"/>
<line x1="470.5" y1="484.3" x2="470.5" y2="516.4" stroke="#111" stroke-width="1.35"/>
<rect x="459.5" y="461.5" width="21" height="23" fill="#f0973a" stroke="#111" stroke-width="1.3"/>
<line x1="459.5" y1="472.3" x2="480.5" y2="472.3" stroke="#111" stroke-width="1.6"/>
<circle cx="470.3" cy="426.3" r="1.25" fill="#000"/>
<circle cx="470.3" cy="424.3" r="1.25" fill="#000"/>
<circle cx="470.3" cy="419.2" r="1.25" fill="#000"/>
<circle cx="470.3" cy="520.8" r="1.25" fill="#000"/>
<circle cx="470.3" cy="526.7" r="1.25" fill="#000"/>
<line x1="435.2" y1="410.5" x2="470.3" y2="410.5" stroke="#000" stroke-width="1"/>
<line x1="435.5" y1="410" x2="435.5" y2="416.5" stroke="#000" stroke-width="1"/>
<line x1="470.5" y1="410" x2="470.5" y2="415.5" stroke="#000" stroke-width="1"/>
<polygon points="450.85,404.9 451.5,406.51 453.23,406.63 451.9,407.74 452.32,409.42 450.85,408.5 449.38,409.42 449.8,407.74 448.47,406.63 450.2,406.51" fill="#000" stroke="#000" stroke-width="0.55" stroke-linejoin="round"/>
<polygon points="456.15,404.9 456.8,406.51 458.53,406.63 457.2,407.74 457.62,409.42 456.15,408.5 454.68,409.42 455.1,407.74 453.77,406.63 455.5,406.51" fill="#000" stroke="#000" stroke-width="0.55" stroke-linejoin="round"/>
<line x1="511.5" y1="412.2" x2="511.5" y2="532.1" stroke="#000" stroke-width="1.2"/>
<line x1="510.9" y1="531.5" x2="588.2" y2="531.5" stroke="#000" stroke-width="1.2"/>
<line x1="509.8" y1="438.5" x2="511.8" y2="438.5" stroke="#333" stroke-width="1"/>
<text x="507.6" y="441.7" font-size="9.3" fill="#333333" text-anchor="end" stroke="#333333" stroke-width="0.25">2</text>
<line x1="509.8" y1="471.5" x2="511.8" y2="471.5" stroke="#333" stroke-width="1"/>
<text x="507.6" y="475.1" font-size="9.3" fill="#333333" text-anchor="end" stroke="#333333" stroke-width="0.25">0</text>
<line x1="509.8" y1="505.5" x2="511.8" y2="505.5" stroke="#333" stroke-width="1"/>
<text x="507.6" y="508.4" font-size="9.3" fill="#333333" text-anchor="end" stroke="#333333" stroke-width="0.25">−2</text>
<line x1="532.5" y1="531.1" x2="532.5" y2="533.5" stroke="#333" stroke-width="1"/>
<line x1="567.5" y1="531.1" x2="567.5" y2="533.5" stroke="#333" stroke-width="1"/>
<text x="531.6" y="541.3" font-size="9.3" fill="#333333" text-anchor="middle" stroke="#333333" stroke-width="0.25">Het</text>
<text x="531.6" y="551.3" font-size="9.3" fill="#333333" text-anchor="middle" stroke="#333333" stroke-width="0.25">(3)</text>
<text x="566.5" y="541.3" font-size="9.3" fill="#333333" text-anchor="middle" stroke="#333333" stroke-width="0.25">Non</text>
<text x="566.5" y="551.3" font-size="9.3" fill="#333333" text-anchor="middle" stroke="#333333" stroke-width="0.25">(910)</text>
<text x="500.8" y="472.5" font-size="9.3" fill="#000" text-anchor="middle" stroke="#000" stroke-width="0.25" transform="rotate(-90 500.8 472.5)">MCH (INT)</text>
<text x="548.8" y="403" font-size="9.4" fill="#000" text-anchor="middle" stroke="#000" stroke-width="0.25" font-style="italic">SGCA</text>
<line x1="532.5" y1="493.7" x2="532.5" y2="505.1" stroke="#111" stroke-width="1.35"/>
<line x1="532.5" y1="521.4" x2="532.5" y2="526.7" stroke="#111" stroke-width="1.35"/>
<rect x="522.5" y="505.5" width="21" height="16" fill="#50b0d6" stroke="#111" stroke-width="1.3"/>
<line x1="522.5" y1="516.7" x2="543.5" y2="516.7" stroke="#111" stroke-width="1.6"/>
<line x1="567.5" y1="427.2" x2="567.5" y2="460.5" stroke="#111" stroke-width="1.35"/>
<line x1="567.5" y1="482.8" x2="567.5" y2="514.6" stroke="#111" stroke-width="1.35"/>
<rect x="557.5" y="460.5" width="21" height="22" fill="#f0973a" stroke="#111" stroke-width="1.3"/>
<line x1="557.5" y1="471.4" x2="578.5" y2="471.4" stroke="#111" stroke-width="1.6"/>
<circle cx="567.5" cy="425" r="1.25" fill="#000"/>
<circle cx="567.5" cy="422.4" r="1.25" fill="#000"/>
<circle cx="567.5" cy="416.8" r="1.25" fill="#000"/>
<circle cx="567.5" cy="518.2" r="1.25" fill="#000"/>
<circle cx="567.5" cy="521.4" r="1.25" fill="#000"/>
<line x1="532.6" y1="412.5" x2="567.5" y2="412.5" stroke="#000" stroke-width="1"/>
<line x1="532.5" y1="412" x2="532.5" y2="413.8" stroke="#000" stroke-width="1"/>
<line x1="567.5" y1="412" x2="567.5" y2="413.8" stroke="#000" stroke-width="1"/>
<polygon points="546.85,406.4 547.5,408.01 549.23,408.13 547.9,409.24 548.32,410.92 546.85,410 545.38,410.92 545.8,409.24 544.47,408.13 546.2,408.01" fill="#000" stroke="#000" stroke-width="0.55" stroke-linejoin="round"/>
<polygon points="552.15,406.4 552.8,408.01 554.53,408.13 553.2,409.24 553.62,410.92 552.15,410 550.68,410.92 551.1,409.24 549.77,408.13 551.5,408.01" fill="#000" stroke="#000" stroke-width="0.55" stroke-linejoin="round"/>
<line x1="607.5" y1="409.9" x2="607.5" y2="532.1" stroke="#000" stroke-width="1.2"/>
<line x1="606.9" y1="531.5" x2="684.8" y2="531.5" stroke="#000" stroke-width="1.2"/>
<line x1="605.7" y1="436.5" x2="607.7" y2="436.5" stroke="#333" stroke-width="1"/>
<text x="603.5" y="440.1" font-size="9.3" fill="#333333" text-anchor="end" stroke="#333333" stroke-width="0.25">2</text>
<line x1="605.7" y1="471.5" x2="607.7" y2="471.5" stroke="#333" stroke-width="1"/>
<text x="603.5" y="474.6" font-size="9.3" fill="#333333" text-anchor="end" stroke="#333333" stroke-width="0.25">0</text>
<line x1="605.7" y1="505.5" x2="607.7" y2="505.5" stroke="#333" stroke-width="1"/>
<text x="603.5" y="508.4" font-size="9.3" fill="#333333" text-anchor="end" stroke="#333333" stroke-width="0.25">−2</text>
<line x1="628.5" y1="531.6" x2="628.5" y2="534" stroke="#333" stroke-width="1"/>
<line x1="663.5" y1="531.6" x2="663.5" y2="534" stroke="#333" stroke-width="1"/>
<text x="627.3" y="541.8" font-size="9.3" fill="#333333" text-anchor="middle" stroke="#333333" stroke-width="0.25">Het</text>
<text x="627.3" y="551.8" font-size="9.3" fill="#333333" text-anchor="middle" stroke="#333333" stroke-width="0.25">(11)</text>
<text x="662.6" y="541.8" font-size="9.3" fill="#333333" text-anchor="middle" stroke="#333333" stroke-width="0.25">Non</text>
<text x="662.6" y="551.8" font-size="9.3" fill="#333333" text-anchor="middle" stroke="#333333" stroke-width="0.25">(734)</text>
<text x="595.9" y="466.1" font-size="9.3" fill="#000" text-anchor="middle" stroke="#000" stroke-width="0.25" transform="rotate(-90 595.9 466.1)">TBIL (INT)</text>
<text x="643.5" y="403" font-size="9.4" fill="#000" text-anchor="middle" stroke="#000" stroke-width="0.25" font-style="italic">ERAP1</text>
<line x1="628.5" y1="437" x2="628.5" y2="440.2" stroke="#111" stroke-width="1.35"/>
<line x1="628.5" y1="457.2" x2="628.5" y2="478.6" stroke="#111" stroke-width="1.35"/>
<rect x="617.5" y="440.5" width="21" height="17" fill="#50b0d6" stroke="#111" stroke-width="1.3"/>
<line x1="617.5" y1="455.4" x2="638.5" y2="455.4" stroke="#111" stroke-width="1.6"/>
<line x1="663.5" y1="426.3" x2="663.5" y2="459.8" stroke="#111" stroke-width="1.35"/>
<line x1="663.5" y1="482.5" x2="663.5" y2="515.5" stroke="#111" stroke-width="1.35"/>
<rect x="653.5" y="459.5" width="21" height="23" fill="#f0973a" stroke="#111" stroke-width="1.3"/>
<line x1="653.5" y1="471.4" x2="674.5" y2="471.4" stroke="#111" stroke-width="1.6"/>
<circle cx="663.6" cy="423.3" r="1.25" fill="#000"/>
<circle cx="663.6" cy="420.9" r="1.25" fill="#000"/>
<circle cx="663.6" cy="415.6" r="1.25" fill="#000"/>
<circle cx="663.6" cy="518.2" r="1.25" fill="#000"/>
<circle cx="663.6" cy="520.3" r="1.25" fill="#000"/>
<circle cx="663.6" cy="526.7" r="1.25" fill="#000"/>
<line x1="628.3" y1="410.5" x2="663.6" y2="410.5" stroke="#000" stroke-width="1"/>
<line x1="628.5" y1="410" x2="628.5" y2="411.5" stroke="#000" stroke-width="1"/>
<line x1="663.5" y1="410" x2="663.5" y2="411.5" stroke="#000" stroke-width="1"/>
<polygon points="639.8,403.8 640.45,405.41 642.18,405.53 640.85,406.64 641.27,408.32 639.8,407.4 638.33,408.32 638.75,406.64 637.42,405.53 639.15,405.41" fill="#000" stroke="#000" stroke-width="0.55" stroke-linejoin="round"/>
<polygon points="645.1,403.8 645.75,405.41 647.48,405.53 646.15,406.64 646.57,408.32 645.1,407.4 643.63,408.32 644.05,406.64 642.72,405.53 644.45,405.41" fill="#000" stroke="#000" stroke-width="0.55" stroke-linejoin="round"/>
<polygon points="650.4,403.8 651.05,405.41 652.78,405.53 651.45,406.64 651.87,408.32 650.4,407.4 648.93,408.32 649.35,406.64 648.02,405.53 649.75,405.41" fill="#000" stroke="#000" stroke-width="0.55" stroke-linejoin="round"/>
<line x1="22.5" y1="572.1" x2="22.5" y2="695.1" stroke="#000" stroke-width="1.2"/>
<line x1="21.9" y1="694.5" x2="99" y2="694.5" stroke="#000" stroke-width="1.2"/>
<line x1="20.8" y1="597.5" x2="22.8" y2="597.5" stroke="#333" stroke-width="1"/>
<text x="18.6" y="601.1" font-size="9.3" fill="#333333" text-anchor="end" stroke="#333333" stroke-width="0.25">2</text>
<line x1="20.8" y1="632.5" x2="22.8" y2="632.5" stroke="#333" stroke-width="1"/>
<text x="18.6" y="636" font-size="9.3" fill="#333333" text-anchor="end" stroke="#333333" stroke-width="0.25">0</text>
<line x1="20.8" y1="668.5" x2="22.8" y2="668.5" stroke="#333" stroke-width="1"/>
<text x="18.6" y="671.7" font-size="9.3" fill="#333333" text-anchor="end" stroke="#333333" stroke-width="0.25">−2</text>
<line x1="42.5" y1="694.2" x2="42.5" y2="696.6" stroke="#333" stroke-width="1"/>
<line x1="78.5" y1="694.2" x2="78.5" y2="696.6" stroke="#333" stroke-width="1"/>
<text x="41.3" y="704.4" font-size="9.3" fill="#333333" text-anchor="middle" stroke="#333333" stroke-width="0.25">Het</text>
<text x="41.3" y="714.4" font-size="9.3" fill="#333333" text-anchor="middle" stroke="#333333" stroke-width="0.25">(5)</text>
<text x="76.7" y="704.4" font-size="9.3" fill="#333333" text-anchor="middle" stroke="#333333" stroke-width="0.25">Non</text>
<text x="76.7" y="714.4" font-size="9.3" fill="#333333" text-anchor="middle" stroke="#333333" stroke-width="0.25">(568)</text>
<text x="9" y="626.4" font-size="9.3" fill="#000" text-anchor="middle" stroke="#000" stroke-width="0.25" transform="rotate(-90 9 626.4)">Full-arm Length (INT)</text>
<text x="60.6" y="566.8" font-size="9.4" fill="#000" text-anchor="middle" stroke="#000" stroke-width="0.25" font-style="italic">CCDC178</text>
<line x1="44.5" y1="636.6" x2="44.5" y2="647.2" stroke="#111" stroke-width="1.35"/>
<rect x="33.5" y="647.5" width="21" height="13" fill="#50b0d6" stroke="#111" stroke-width="1.3"/>
<line x1="33.5" y1="655.5" x2="54.5" y2="655.5" stroke="#111" stroke-width="1.6"/>
<circle cx="44.3" cy="688.4" r="1.25" fill="#000"/>
<line x1="79.5" y1="586.1" x2="79.5" y2="620.9" stroke="#111" stroke-width="1.35"/>
<line x1="79.5" y1="644.9" x2="79.5" y2="679.5" stroke="#111" stroke-width="1.35"/>
<rect x="69.5" y="620.5" width="21" height="24" fill="#f0973a" stroke="#111" stroke-width="1.3"/>
<line x1="69.5" y1="632.4" x2="90.5" y2="632.4" stroke="#111" stroke-width="1.6"/>
<circle cx="79.7" cy="582.6" r="1.25" fill="#000"/>
<circle cx="79.7" cy="576.8" r="1.25" fill="#000"/>
<circle cx="79.7" cy="682.6" r="1.25" fill="#000"/>
<line x1="44.3" y1="572.5" x2="79.7" y2="572.5" stroke="#000" stroke-width="1"/>
<line x1="44.5" y1="572" x2="44.5" y2="574.5" stroke="#000" stroke-width="1"/>
<line x1="79.5" y1="572" x2="79.5" y2="574.5" stroke="#000" stroke-width="1"/>
<polygon points="57.65,567.4 58.3,569.01 60.03,569.13 58.7,570.24 59.12,571.92 57.65,571 56.18,571.92 56.6,570.24 55.27,569.13 57,569.01" fill="#000" stroke="#000" stroke-width="0.55" stroke-linejoin="round"/>
<polygon points="62.95,567.4 63.6,569.01 65.33,569.13 64,570.24 64.42,571.92 62.95,571 61.48,571.92 61.9,570.24 60.57,569.13 62.3,569.01" fill="#000" stroke="#000" stroke-width="0.55" stroke-linejoin="round"/>
<line x1="126.5" y1="577.5" x2="126.5" y2="695.1" stroke="#000" stroke-width="1.2"/>
<line x1="125.9" y1="694.5" x2="202.7" y2="694.5" stroke="#000" stroke-width="1.2"/>
<line x1="124.5" y1="601.5" x2="126.5" y2="601.5" stroke="#333" stroke-width="1"/>
<text x="122.3" y="605" font-size="9.3" fill="#333333" text-anchor="end" stroke="#333333" stroke-width="0.25">2</text>
<line x1="124.5" y1="635.5" x2="126.5" y2="635.5" stroke="#333" stroke-width="1"/>
<text x="122.3" y="638.8" font-size="9.3" fill="#333333" text-anchor="end" stroke="#333333" stroke-width="0.25">0</text>
<line x1="124.5" y1="668.5" x2="126.5" y2="668.5" stroke="#333" stroke-width="1"/>
<text x="122.3" y="672.2" font-size="9.3" fill="#333333" text-anchor="end" stroke="#333333" stroke-width="0.25">−2</text>
<line x1="146.5" y1="694.5" x2="146.5" y2="696.9" stroke="#333" stroke-width="1"/>
<line x1="181.5" y1="694.5" x2="181.5" y2="696.9" stroke="#333" stroke-width="1"/>
<text x="145.7" y="704.7" font-size="9.3" fill="#333333" text-anchor="middle" stroke="#333333" stroke-width="0.25">Het</text>
<text x="145.7" y="714.7" font-size="9.3" fill="#333333" text-anchor="middle" stroke="#333333" stroke-width="0.25">(3)</text>
<text x="180.7" y="704.7" font-size="9.3" fill="#333333" text-anchor="middle" stroke="#333333" stroke-width="0.25">Non</text>
<text x="180.7" y="714.7" font-size="9.3" fill="#333333" text-anchor="middle" stroke="#333333" stroke-width="0.25">(717)</text>
<text x="114.8" y="629" font-size="9.3" fill="#000" text-anchor="middle" stroke="#000" stroke-width="0.25" transform="rotate(-90 114.8 629)">HDL (INT)</text>
<text x="164.6" y="565.8" font-size="9.4" fill="#000" text-anchor="middle" stroke="#000" stroke-width="0.25" font-style="italic">ALOX15</text>
<line x1="146.5" y1="665.8" x2="146.5" y2="667.7" stroke="#111" stroke-width="1.35"/>
<line x1="146.5" y1="672.3" x2="146.5" y2="673.5" stroke="#111" stroke-width="1.35"/>
<rect x="136.5" y="667.5" width="21" height="5" fill="#50b0d6" stroke="#111" stroke-width="1.3"/>
<line x1="136.5" y1="670" x2="157.5" y2="670" stroke="#111" stroke-width="1.6"/>
<line x1="181.5" y1="591.9" x2="181.5" y2="624" stroke="#111" stroke-width="1.35"/>
<line x1="181.5" y1="646.6" x2="181.5" y2="678.4" stroke="#111" stroke-width="1.35"/>
<rect x="171.5" y="624.5" width="21" height="22" fill="#f0973a" stroke="#111" stroke-width="1.3"/>
<line x1="171.5" y1="635" x2="192.5" y2="635" stroke="#111" stroke-width="1.6"/>
<circle cx="181.7" cy="588.8" r="1.25" fill="#000"/>
<circle cx="181.7" cy="586.5" r="1.25" fill="#000"/>
<circle cx="181.7" cy="581.7" r="1.25" fill="#000"/>
<circle cx="181.7" cy="680.2" r="1.25" fill="#000"/>
<circle cx="181.7" cy="682.8" r="1.25" fill="#000"/>
<circle cx="181.7" cy="688.7" r="1.25" fill="#000"/>
<line x1="146.7" y1="572.5" x2="181.7" y2="572.5" stroke="#000" stroke-width="1"/>
<line x1="146.5" y1="572" x2="146.5" y2="578.8" stroke="#000" stroke-width="1"/>
<line x1="181.5" y1="572" x2="181.5" y2="577.5" stroke="#000" stroke-width="1"/>
<polygon points="162.85,567.5 163.5,569.11 165.23,569.23 163.9,570.34 164.32,572.02 162.85,571.1 161.38,572.02 161.8,570.34 160.47,569.23 162.2,569.11" fill="#000" stroke="#000" stroke-width="0.55" stroke-linejoin="round"/>
<polygon points="168.15,567.5 168.8,569.11 170.53,569.23 169.2,570.34 169.62,572.02 168.15,571.1 166.68,572.02 167.1,570.34 165.77,569.23 167.5,569.11" fill="#000" stroke="#000" stroke-width="0.55" stroke-linejoin="round"/>
<line x1="226.5" y1="576.8" x2="226.5" y2="695.1" stroke="#000" stroke-width="1.2"/>
<line x1="225.9" y1="694.5" x2="301.5" y2="694.5" stroke="#000" stroke-width="1.2"/>
<line x1="224" y1="601.5" x2="226" y2="601.5" stroke="#333" stroke-width="1"/>
<text x="221.8" y="605" font-size="9.3" fill="#333333" text-anchor="end" stroke="#333333" stroke-width="0.25">2</text>
<line x1="224" y1="635.5" x2="226" y2="635.5" stroke="#333" stroke-width="1"/>
<text x="221.8" y="638.4" font-size="9.3" fill="#333333" text-anchor="end" stroke="#333333" stroke-width="0.25">0</text>
<line x1="224" y1="668.5" x2="226" y2="668.5" stroke="#333" stroke-width="1"/>
<text x="221.8" y="672.2" font-size="9.3" fill="#333333" text-anchor="end" stroke="#333333" stroke-width="0.25">−2</text>
<line x1="246.5" y1="694.5" x2="246.5" y2="696.9" stroke="#333" stroke-width="1"/>
<line x1="280.5" y1="694.5" x2="280.5" y2="696.9" stroke="#333" stroke-width="1"/>
<text x="245.1" y="704.7" font-size="9.3" fill="#333333" text-anchor="middle" stroke="#333333" stroke-width="0.25">Het</text>
<text x="245.1" y="714.7" font-size="9.3" fill="#333333" text-anchor="middle" stroke="#333333" stroke-width="0.25">(3)</text>
<text x="279.3" y="704.7" font-size="9.3" fill="#333333" text-anchor="middle" stroke="#333333" stroke-width="0.25">Non</text>
<text x="279.3" y="714.7" font-size="9.3" fill="#333333" text-anchor="middle" stroke="#333333" stroke-width="0.25">(742)</text>
<text x="212.8" y="626" font-size="9.3" fill="#000" text-anchor="middle" stroke="#000" stroke-width="0.25" transform="rotate(-90 212.8 626)">ALP (INT)</text>
<text x="263.7" y="568.2" font-size="9.4" fill="#000" text-anchor="middle" stroke="#000" stroke-width="0.25" font-style="italic">PPEF2</text>
<line x1="246.5" y1="590.1" x2="246.5" y2="598.2" stroke="#111" stroke-width="1.35"/>
<line x1="246.5" y1="612.5" x2="246.5" y2="617.6" stroke="#111" stroke-width="1.35"/>
<rect x="235.5" y="598.5" width="21" height="14" fill="#50b0d6" stroke="#111" stroke-width="1.3"/>
<line x1="235.5" y1="606.4" x2="256.5" y2="606.4" stroke="#111" stroke-width="1.6"/>
<line x1="280.5" y1="592.4" x2="280.5" y2="624" stroke="#111" stroke-width="1.35"/>
<line x1="280.5" y1="646.6" x2="280.5" y2="678.4" stroke="#111" stroke-width="1.35"/>
<rect x="270.5" y="624.5" width="21" height="22" fill="#f0973a" stroke="#111" stroke-width="1.3"/>
<line x1="270.5" y1="635" x2="291.5" y2="635" stroke="#111" stroke-width="1.6"/>
<circle cx="280.5" cy="587.4" r="1.25" fill="#000"/>
<circle cx="280.5" cy="581.7" r="1.25" fill="#000"/>
<circle cx="280.5" cy="680.2" r="1.25" fill="#000"/>
<circle cx="280.5" cy="682.8" r="1.25" fill="#000"/>
<circle cx="280.5" cy="688.7" r="1.25" fill="#000"/>
<line x1="246.3" y1="577.5" x2="280.5" y2="577.5" stroke="#000" stroke-width="1"/>
<line x1="246.5" y1="577" x2="246.5" y2="579.1" stroke="#000" stroke-width="1"/>
<line x1="280.5" y1="577" x2="280.5" y2="579.1" stroke="#000" stroke-width="1"/>
<polygon points="261.35,571.5 262,573.11 263.73,573.23 262.4,574.34 262.82,576.02 261.35,575.1 259.88,576.02 260.3,574.34 258.97,573.23 260.7,573.11" fill="#000" stroke="#000" stroke-width="0.55" stroke-linejoin="round"/>
<polygon points="266.65,571.5 267.3,573.11 269.03,573.23 267.7,574.34 268.12,576.02 266.65,575.1 265.18,576.02 265.6,574.34 264.27,573.23 266,573.11" fill="#000" stroke="#000" stroke-width="0.55" stroke-linejoin="round"/>
<line x1="319.5" y1="576.8" x2="319.5" y2="695.1" stroke="#000" stroke-width="1.2"/>
<line x1="318.9" y1="694.5" x2="393.7" y2="694.5" stroke="#000" stroke-width="1.2"/>
<line x1="317.8" y1="601.5" x2="319.8" y2="601.5" stroke="#333" stroke-width="1"/>
<text x="315.6" y="605" font-size="9.3" fill="#333333" text-anchor="end" stroke="#333333" stroke-width="0.25">2</text>
<line x1="317.8" y1="635.5" x2="319.8" y2="635.5" stroke="#333" stroke-width="1"/>
<text x="315.6" y="638.4" font-size="9.3" fill="#333333" text-anchor="end" stroke="#333333" stroke-width="0.25">0</text>
<line x1="317.8" y1="668.5" x2="319.8" y2="668.5" stroke="#333" stroke-width="1"/>
<text x="315.6" y="671.7" font-size="9.3" fill="#333333" text-anchor="end" stroke="#333333" stroke-width="0.25">−2</text>
<line x1="340.5" y1="694.5" x2="340.5" y2="696.9" stroke="#333" stroke-width="1"/>
<line x1="374.5" y1="694.5" x2="374.5" y2="696.9" stroke="#333" stroke-width="1"/>
<text x="339" y="704.7" font-size="9.3" fill="#333333" text-anchor="middle" stroke="#333333" stroke-width="0.25">Het</text>
<text x="339" y="714.7" font-size="9.3" fill="#333333" text-anchor="middle" stroke="#333333" stroke-width="0.25">(3)</text>
<text x="373.1" y="704.7" font-size="9.3" fill="#333333" text-anchor="middle" stroke="#333333" stroke-width="0.25">Non</text>
<text x="373.1" y="714.7" font-size="9.3" fill="#333333" text-anchor="middle" stroke="#333333" stroke-width="0.25">(740)</text>
<text x="307" y="627.5" font-size="9.3" fill="#000" text-anchor="middle" stroke="#000" stroke-width="0.25" transform="rotate(-90 307 627.5)">TRIG (INT)</text>
<text x="355.6" y="568.6" font-size="9.4" fill="#000" text-anchor="middle" stroke="#000" stroke-width="0.25" font-style="italic">SHPK</text>
<line x1="340.5" y1="650.7" x2="340.5" y2="660.7" stroke="#111" stroke-width="1.35"/>
<line x1="340.5" y1="679.8" x2="340.5" y2="688.7" stroke="#111" stroke-width="1.35"/>
<rect x="329.5" y="660.5" width="21" height="19" fill="#50b0d6" stroke="#111" stroke-width="1.3"/>
<line x1="329.5" y1="671.2" x2="350.5" y2="671.2" stroke="#111" stroke-width="1.6"/>
<line x1="374.5" y1="591.9" x2="374.5" y2="623.4" stroke="#111" stroke-width="1.35"/>
<line x1="374.5" y1="646.3" x2="374.5" y2="679.3" stroke="#111" stroke-width="1.35"/>
<rect x="363.5" y="623.5" width="21" height="23" fill="#f0973a" stroke="#111" stroke-width="1.3"/>
<line x1="363.5" y1="634.7" x2="384.5" y2="634.7" stroke="#111" stroke-width="1.6"/>
<circle cx="374.1" cy="588.8" r="1.25" fill="#000"/>
<circle cx="374.1" cy="587" r="1.25" fill="#000"/>
<circle cx="374.1" cy="581.7" r="1.25" fill="#000"/>
<circle cx="374.1" cy="681.1" r="1.25" fill="#000"/>
<circle cx="374.1" cy="683.4" r="1.25" fill="#000"/>
<line x1="340" y1="577.5" x2="374.1" y2="577.5" stroke="#000" stroke-width="1"/>
<line x1="340.5" y1="577" x2="340.5" y2="579.1" stroke="#000" stroke-width="1"/>
<line x1="374.5" y1="577" x2="374.5" y2="579.1" stroke="#000" stroke-width="1"/>
<polygon points="354.85,571.8 355.5,573.41 357.23,573.53 355.9,574.64 356.32,576.32 354.85,575.4 353.38,576.32 353.8,574.64 352.47,573.53 354.2,573.41" fill="#000" stroke="#000" stroke-width="0.55" stroke-linejoin="round"/>
<polygon points="360.15,571.8 360.8,573.41 362.53,573.53 361.2,574.64 361.62,576.32 360.15,575.4 358.68,576.32 359.1,574.64 357.77,573.53 359.5,573.41" fill="#000" stroke="#000" stroke-width="0.55" stroke-linejoin="round"/>
<line x1="414.5" y1="576.8" x2="414.5" y2="695.1" stroke="#000" stroke-width="1.2"/>
<line x1="413.9" y1="694.5" x2="488" y2="694.5" stroke="#000" stroke-width="1.2"/>
<line x1="412.1" y1="600.5" x2="414.1" y2="600.5" stroke="#333" stroke-width="1"/>
<text x="409.9" y="604.1" font-size="9.3" fill="#333333" text-anchor="end" stroke="#333333" stroke-width="0.25">2</text>
<line x1="412.1" y1="634.5" x2="414.1" y2="634.5" stroke="#333" stroke-width="1"/>
<text x="409.9" y="637.9" font-size="9.3" fill="#333333" text-anchor="end" stroke="#333333" stroke-width="0.25">0</text>
<line x1="412.1" y1="668.5" x2="414.1" y2="668.5" stroke="#333" stroke-width="1"/>
<text x="409.9" y="672.2" font-size="9.3" fill="#333333" text-anchor="end" stroke="#333333" stroke-width="0.25">−2</text>
<line x1="434.5" y1="694" x2="434.5" y2="696.4" stroke="#333" stroke-width="1"/>
<line x1="468.5" y1="694" x2="468.5" y2="696.4" stroke="#333" stroke-width="1"/>
<text x="433.6" y="704.2" font-size="9.3" fill="#333333" text-anchor="middle" stroke="#333333" stroke-width="0.25">Het</text>
<text x="433.6" y="714.2" font-size="9.3" fill="#333333" text-anchor="middle" stroke="#333333" stroke-width="0.25">(3)</text>
<text x="467.9" y="704.2" font-size="9.3" fill="#333333" text-anchor="middle" stroke="#333333" stroke-width="0.25">Non</text>
<text x="467.9" y="714.2" font-size="9.3" fill="#333333" text-anchor="middle" stroke="#333333" stroke-width="0.25">(577)</text>
<text x="398.9" y="629.9" font-size="9.3" fill="#000" text-anchor="middle" stroke="#000" stroke-width="0.25" transform="rotate(-90 398.9 629.9)">Head Length (INT)</text>
<text x="449.8" y="568" font-size="9.4" fill="#000" text-anchor="middle" stroke="#000" stroke-width="0.25" font-style="italic">ATR</text>
<line x1="434.5" y1="654.9" x2="434.5" y2="661.9" stroke="#111" stroke-width="1.35"/>
<line x1="434.5" y1="672.3" x2="434.5" y2="675.8" stroke="#111" stroke-width="1.35"/>
<rect x="424.5" y="661.5" width="21" height="11" fill="#50b0d6" stroke="#111" stroke-width="1.3"/>
<line x1="424.5" y1="668.4" x2="445.5" y2="668.4" stroke="#111" stroke-width="1.6"/>
<line x1="468.5" y1="590.1" x2="468.5" y2="623.4" stroke="#111" stroke-width="1.35"/>
<line x1="468.5" y1="646.3" x2="468.5" y2="678.7" stroke="#111" stroke-width="1.35"/>
<rect x="458.5" y="623.5" width="21" height="23" fill="#f0973a" stroke="#111" stroke-width="1.3"/>
<line x1="458.5" y1="634.3" x2="479.5" y2="634.3" stroke="#111" stroke-width="1.6"/>
<circle cx="468.9" cy="587" r="1.25" fill="#000"/>
<circle cx="468.9" cy="581.2" r="1.25" fill="#000"/>
<circle cx="468.9" cy="682.8" r="1.25" fill="#000"/>
<circle cx="468.9" cy="688.7" r="1.25" fill="#000"/>
<line x1="434.6" y1="575.5" x2="468.9" y2="575.5" stroke="#000" stroke-width="1"/>
<line x1="434.5" y1="575" x2="434.5" y2="577.6" stroke="#000" stroke-width="1"/>
<line x1="468.5" y1="575" x2="468.5" y2="577.6" stroke="#000" stroke-width="1"/>
<polygon points="449.05,570.9 449.7,572.51 451.43,572.63 450.1,573.74 450.52,575.42 449.05,574.5 447.58,575.42 448,573.74 446.67,572.63 448.4,572.51" fill="#000" stroke="#000" stroke-width="0.55" stroke-linejoin="round"/>
<polygon points="454.35,570.9 455,572.51 456.73,572.63 455.4,573.74 455.82,575.42 454.35,574.5 452.88,575.42 453.3,573.74 451.97,572.63 453.7,572.51" fill="#000" stroke="#000" stroke-width="0.55" stroke-linejoin="round"/>
<line x1="511.5" y1="576.8" x2="511.5" y2="694.1" stroke="#000" stroke-width="1.2"/>
<line x1="510.9" y1="693.5" x2="586" y2="693.5" stroke="#000" stroke-width="1.2"/>
<line x1="509.5" y1="600.5" x2="511.5" y2="600.5" stroke="#333" stroke-width="1"/>
<text x="507.3" y="604.1" font-size="9.3" fill="#333333" text-anchor="end" stroke="#333333" stroke-width="0.25">2</text>
<line x1="509.5" y1="634.5" x2="511.5" y2="634.5" stroke="#333" stroke-width="1"/>
<text x="507.3" y="637.7" font-size="9.3" fill="#333333" text-anchor="end" stroke="#333333" stroke-width="0.25">0</text>
<line x1="509.5" y1="668.5" x2="511.5" y2="668.5" stroke="#333" stroke-width="1"/>
<text x="507.3" y="671.7" font-size="9.3" fill="#333333" text-anchor="end" stroke="#333333" stroke-width="0.25">−2</text>
<line x1="531.5" y1="693.3" x2="531.5" y2="695.7" stroke="#333" stroke-width="1"/>
<line x1="566.5" y1="693.3" x2="566.5" y2="695.7" stroke="#333" stroke-width="1"/>
<text x="530.9" y="703.5" font-size="9.3" fill="#333333" text-anchor="middle" stroke="#333333" stroke-width="0.25">Het</text>
<text x="530.9" y="713.5" font-size="9.3" fill="#333333" text-anchor="middle" stroke="#333333" stroke-width="0.25">(3)</text>
<text x="565.2" y="703.5" font-size="9.3" fill="#333333" text-anchor="middle" stroke="#333333" stroke-width="0.25">Non</text>
<text x="565.2" y="713.5" font-size="9.3" fill="#333333" text-anchor="middle" stroke="#333333" stroke-width="0.25">(577)</text>
<text x="494.6" y="629.9" font-size="9.3" fill="#000" text-anchor="middle" stroke="#000" stroke-width="0.25" transform="rotate(-90 494.6 629.9)">Head Length (INT)</text>
<text x="550.3" y="568" font-size="9.4" fill="#000" text-anchor="middle" stroke="#000" stroke-width="0.25" font-style="italic">PKD1L2</text>
<line x1="531.5" y1="654.2" x2="531.5" y2="661.4" stroke="#111" stroke-width="1.35"/>
<line x1="531.5" y1="672.3" x2="531.5" y2="675.8" stroke="#111" stroke-width="1.35"/>
<rect x="521.5" y="661.5" width="21" height="11" fill="#50b0d6" stroke="#111" stroke-width="1.3"/>
<line x1="521.5" y1="668.9" x2="542.5" y2="668.9" stroke="#111" stroke-width="1.6"/>
<line x1="566.5" y1="591" x2="566.5" y2="623.4" stroke="#111" stroke-width="1.35"/>
<line x1="566.5" y1="646.3" x2="566.5" y2="678.7" stroke="#111" stroke-width="1.35"/>
<rect x="555.5" y="623.5" width="21" height="23" fill="#f0973a" stroke="#111" stroke-width="1.3"/>
<line x1="555.5" y1="634.3" x2="576.5" y2="634.3" stroke="#111" stroke-width="1.6"/>
<circle cx="566.2" cy="587.4" r="1.25" fill="#000"/>
<circle cx="566.2" cy="581.7" r="1.25" fill="#000"/>
<circle cx="566.2" cy="682" r="1.25" fill="#000"/>
<circle cx="566.2" cy="687.8" r="1.25" fill="#000"/>
<line x1="531.9" y1="577.5" x2="566.2" y2="577.5" stroke="#000" stroke-width="1"/>
<line x1="531.5" y1="577" x2="531.5" y2="579.1" stroke="#000" stroke-width="1"/>
<line x1="566.5" y1="577" x2="566.5" y2="579.1" stroke="#000" stroke-width="1"/>
<polygon points="546.05,572.3 546.7,573.91 548.43,574.03 547.1,575.14 547.52,576.82 546.05,575.9 544.58,576.82 545,575.14 543.67,574.03 545.4,573.91" fill="#000" stroke="#000" stroke-width="0.55" stroke-linejoin="round"/>
<polygon points="551.35,572.3 552,573.91 553.73,574.03 552.4,575.14 552.82,576.82 551.35,575.9 549.88,576.82 550.3,575.14 548.97,574.03 550.7,573.91" fill="#000" stroke="#000" stroke-width="0.55" stroke-linejoin="round"/>
</svg>
</body></html>
